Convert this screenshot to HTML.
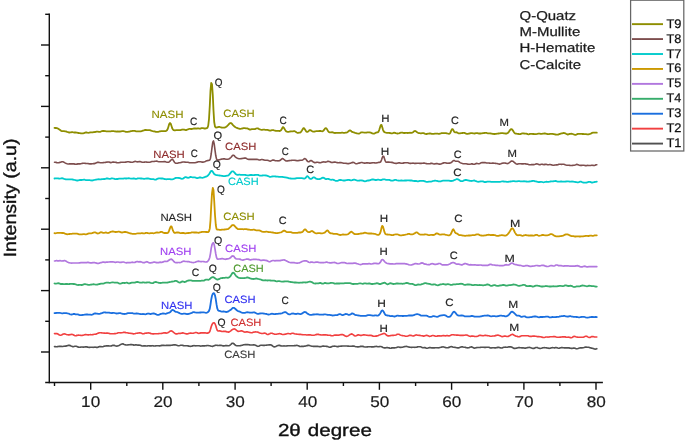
<!DOCTYPE html>
<html lang="en"><head><meta charset="utf-8"><title>XRD patterns</title>
<style>html,body{margin:0;padding:0;background:#fff}svg{display:block}</style></head>
<body>
<svg width="685" height="440" viewBox="0 0 685 440" font-family="'Liberation Sans', sans-serif" text-rendering="geometricPrecision">
<rect width="685" height="440" fill="#fff"/>
<g stroke="#111" stroke-width="1.4" fill="none" stroke-linecap="butt">
<path d="M49.3,13.6V383.25"/>
<path d="M45.2,382.5H602.9"/>
<path d="M41,45.0H49.3"/>
<path d="M41,106.4H49.3"/>
<path d="M41,167.8H49.3"/>
<path d="M41,229.2H49.3"/>
<path d="M41,290.6H49.3"/>
<path d="M41,352.0H49.3"/>
<path d="M45.2,14.3H49.3"/>
<path d="M45.2,75.7H49.3"/>
<path d="M45.2,137.1H49.3"/>
<path d="M45.2,198.5H49.3"/>
<path d="M45.2,259.9H49.3"/>
<path d="M45.2,321.3H49.3"/>
<path d="M54.5,382.5V386"/>
<path d="M90.7,382.5V389.8"/>
<path d="M126.8,382.5V386"/>
<path d="M162.8,382.5V389.8"/>
<path d="M198.9,382.5V386"/>
<path d="M235.1,382.5V389.8"/>
<path d="M271.1,382.5V386"/>
<path d="M307.2,382.5V389.8"/>
<path d="M343.4,382.5V386"/>
<path d="M379.4,382.5V389.8"/>
<path d="M415.6,382.5V386"/>
<path d="M451.6,382.5V389.8"/>
<path d="M487.8,382.5V386"/>
<path d="M523.9,382.5V389.8"/>
<path d="M559.9,382.5V386"/>
<path d="M596.0,382.5V389.8"/>
</g>
<g fill="none" stroke-width="1.7" stroke-linejoin="round" stroke-linecap="round">
<path stroke="#515151" stroke-width="1.65" d="M54.5,346.6 55.2,346.6 56.0,346.7 56.8,346.7 57.5,346.6 58.2,346.5 59.0,346.4 59.8,346.3 60.5,346.3 61.2,346.4 62.0,346.5 62.8,346.5 63.5,346.3 64.2,346.2 65.0,346.1 65.8,346.1 66.5,345.9 67.2,345.7 68.0,345.4 68.8,345.3 69.5,345.4 70.2,345.6 71.0,346.0 71.8,346.3 72.5,346.6 73.2,346.7 74.0,346.5 74.8,346.3 75.5,346.2 76.2,346.3 77.0,346.6 77.8,346.9 78.5,347.1 79.2,347.2 80.0,347.2 80.8,347.1 81.5,347.0 82.2,347.0 83.0,347.1 83.8,347.1 84.5,347.0 85.2,346.9 86.0,346.8 86.8,346.9 87.5,347.1 88.2,347.3 89.0,347.4 89.8,347.4 90.5,347.3 91.2,347.2 92.0,347.2 92.8,347.3 93.5,347.3 94.2,347.2 95.0,347.1 95.8,347.2 96.5,347.4 97.2,347.4 98.0,347.2 98.8,346.8 99.5,346.6 100.2,346.5 101.0,346.6 101.8,346.7 102.5,346.7 103.2,346.6 104.0,346.3 104.8,346.1 105.5,346.0 106.2,345.9 107.0,345.9 107.8,345.9 108.5,345.9 109.2,346.0 110.0,346.0 110.8,346.0 111.5,345.9 112.2,345.6 113.0,345.3 113.8,345.3 114.5,345.4 115.2,345.7 116.0,346.0 116.8,346.1 117.5,346.0 118.2,345.7 119.0,345.4 119.8,345.0 120.5,344.6 121.2,344.2 122.0,344.0 122.8,343.9 123.5,344.1 124.2,344.4 125.0,344.7 125.8,344.9 126.5,345.0 127.2,345.0 128.0,344.9 128.8,344.8 129.5,344.7 130.2,344.6 131.0,344.6 131.8,344.6 132.5,344.8 133.2,344.9 134.0,345.1 134.8,345.0 135.5,344.9 136.2,344.9 137.0,345.0 137.8,345.1 138.5,345.1 139.2,345.1 140.0,345.2 140.8,345.4 141.5,345.7 142.2,346.0 143.0,346.0 143.8,345.9 144.5,345.8 145.2,345.9 146.0,346.0 146.8,346.0 147.5,345.9 148.2,345.7 149.0,345.7 149.8,345.9 150.5,345.9 151.2,345.9 152.0,345.8 152.8,345.7 153.5,345.9 154.2,346.0 155.0,346.0 155.8,345.9 156.5,345.8 157.2,345.7 158.0,345.7 158.8,345.8 159.5,345.8 160.2,345.8 161.0,345.6 161.8,345.4 162.5,345.3 163.2,345.3 164.0,345.4 164.8,345.5 165.5,345.5 166.2,345.4 167.0,345.3 167.8,345.3 168.5,345.3 169.2,345.3 170.0,345.3 170.8,345.3 171.5,345.2 172.2,345.1 173.0,345.0 173.8,344.9 174.5,344.9 175.2,344.9 176.0,345.0 176.8,345.2 177.5,345.5 178.2,345.7 179.0,345.7 179.8,345.5 180.5,345.3 181.2,345.2 182.0,345.3 182.8,345.4 183.5,345.6 184.2,345.7 185.0,345.7 185.8,345.7 186.5,345.7 187.2,345.7 188.0,345.9 188.8,346.1 189.5,346.3 190.2,346.4 191.0,346.3 191.8,346.1 192.5,345.9 193.2,345.7 194.0,345.6 194.8,345.7 195.5,345.8 196.2,345.8 197.0,345.7 197.8,345.7 198.5,345.7 199.2,345.8 200.0,346.0 200.8,346.1 201.5,346.0 202.2,345.9 203.0,345.8 203.8,345.8 204.5,345.8 205.2,345.8 206.0,345.7 206.8,345.6 207.5,345.5 208.2,345.5 209.0,345.7 209.8,345.8 210.5,346.0 211.2,346.2 212.0,346.3 212.8,346.3 213.5,346.0 214.2,345.7 215.0,345.4 215.8,345.2 216.5,345.3 217.2,345.4 218.0,345.5 218.8,345.5 219.5,345.4 220.2,345.4 221.0,345.4 221.8,345.5 222.5,345.7 223.2,345.9 224.0,345.9 224.8,345.8 225.5,345.6 226.2,345.6 227.0,345.6 227.8,345.7 228.5,345.7 229.2,345.6 230.0,345.2 230.8,344.5 231.5,343.8 232.2,343.2 233.0,343.2 233.8,343.7 234.5,344.4 235.2,345.0 236.0,345.4 236.8,345.7 237.5,345.8 238.2,345.7 239.0,345.7 239.8,345.7 240.5,345.6 241.2,345.5 242.0,345.3 242.8,345.1 243.5,344.8 244.2,344.7 245.0,344.6 245.8,344.6 246.5,344.5 247.2,344.6 248.0,344.6 248.8,344.8 249.5,344.9 250.2,345.0 251.0,345.0 251.8,345.0 252.5,345.0 253.2,344.9 254.0,344.9 254.8,345.0 255.5,345.2 256.2,345.6 257.0,346.0 257.8,346.3 258.5,346.2 259.2,345.9 260.0,345.5 260.8,345.3 261.5,345.2 262.2,345.3 263.0,345.4 263.8,345.4 264.5,345.4 265.2,345.3 266.0,345.2 266.8,345.1 267.5,345.0 268.2,345.0 269.0,344.9 269.8,344.8 270.5,344.8 271.2,345.0 272.0,345.5 272.8,346.1 273.5,346.6 274.2,346.9 275.0,346.8 275.8,346.5 276.5,346.1 277.2,345.7 278.0,345.5 278.8,345.4 279.5,345.4 280.2,345.6 281.0,345.9 281.8,346.0 282.5,346.0 283.2,346.0 284.0,345.9 284.8,346.0 285.5,346.0 286.2,346.0 287.0,345.9 287.8,345.8 288.5,345.7 289.2,345.7 290.0,345.7 290.8,345.7 291.5,345.7 292.2,345.7 293.0,345.8 293.8,345.7 294.5,345.6 295.2,345.6 296.0,345.5 296.8,345.4 297.5,345.5 298.2,345.7 299.0,346.1 299.8,346.5 300.5,346.5 301.2,346.4 302.0,346.3 302.8,346.3 303.5,346.4 304.2,346.3 305.0,346.1 305.8,346.0 306.5,345.8 307.2,345.6 308.0,345.4 308.8,345.4 309.5,345.5 310.2,345.8 311.0,346.0 311.8,346.2 312.5,346.3 313.2,346.4 314.0,346.4 314.8,346.4 315.5,346.3 316.2,346.3 317.0,346.3 317.8,346.4 318.5,346.5 319.2,346.6 320.0,346.7 320.8,346.6 321.5,346.5 322.2,346.3 323.0,346.1 323.8,346.1 324.5,346.2 325.2,346.2 326.0,346.3 326.8,346.3 327.5,346.5 328.2,346.8 329.0,347.1 329.8,347.2 330.5,347.1 331.2,346.9 332.0,346.6 332.8,346.3 333.5,346.2 334.2,346.1 335.0,346.2 335.8,346.3 336.5,346.5 337.2,346.6 338.0,346.6 338.8,346.4 339.5,346.3 340.2,346.2 341.0,346.1 341.8,346.1 342.5,346.0 343.2,346.0 344.0,346.0 344.8,346.0 345.5,346.0 346.2,346.0 347.0,346.0 347.8,346.1 348.5,346.1 349.2,346.2 350.0,346.2 350.8,346.2 351.5,346.2 352.2,346.1 353.0,346.1 353.8,346.1 354.5,346.3 355.2,346.5 356.0,346.7 356.8,346.8 357.5,346.9 358.2,346.9 359.0,346.8 359.8,346.6 360.5,346.4 361.2,346.3 362.0,346.3 362.8,346.4 363.5,346.6 364.2,346.8 365.0,347.0 365.8,347.0 366.5,347.0 367.2,346.8 368.0,346.8 368.8,346.7 369.5,346.7 370.2,346.7 371.0,346.8 371.8,346.8 372.5,346.9 373.2,346.9 374.0,346.8 374.8,346.6 375.5,346.5 376.2,346.4 377.0,346.5 377.8,346.7 378.5,346.7 379.2,346.6 380.0,346.5 380.8,346.5 381.5,346.7 382.2,347.0 383.0,347.4 383.8,347.7 384.5,347.9 385.2,347.9 386.0,347.8 386.8,347.6 387.5,347.6 388.2,347.7 389.0,347.9 389.8,348.1 390.5,348.2 391.2,348.1 392.0,347.9 392.8,347.8 393.5,347.8 394.2,347.8 395.0,347.8 395.8,347.7 396.5,347.5 397.2,347.2 398.0,347.0 398.8,347.0 399.5,347.2 400.2,347.4 401.0,347.4 401.8,347.3 402.5,347.2 403.2,347.0 404.0,346.8 404.8,346.6 405.5,346.5 406.2,346.4 407.0,346.5 407.8,346.7 408.5,347.0 409.2,347.1 410.0,347.2 410.8,347.3 411.5,347.3 412.2,347.3 413.0,347.2 413.8,347.2 414.5,347.3 415.2,347.3 416.0,347.2 416.8,347.1 417.5,346.9 418.2,346.8 419.0,346.7 419.8,346.7 420.5,346.8 421.2,347.1 422.0,347.4 422.8,347.7 423.5,347.7 424.2,347.5 425.0,347.6 425.8,347.9 426.5,348.2 427.2,348.2 428.0,348.0 428.8,347.7 429.5,347.5 430.2,347.6 431.0,347.8 431.8,347.9 432.5,347.9 433.2,347.8 434.0,347.8 434.8,347.8 435.5,347.7 436.2,347.7 437.0,347.7 437.8,347.8 438.5,347.8 439.2,347.7 440.0,347.5 440.8,347.3 441.5,347.1 442.2,347.0 443.0,346.9 443.8,347.0 444.5,347.2 445.2,347.4 446.0,347.6 446.8,347.7 447.5,347.7 448.2,347.6 449.0,347.4 449.8,347.0 450.5,346.7 451.2,346.6 452.0,346.8 452.8,347.1 453.5,347.2 454.2,347.3 455.0,347.4 455.8,347.5 456.5,347.7 457.2,347.8 458.0,347.8 458.8,347.8 459.5,347.6 460.2,347.3 461.0,347.0 461.8,346.8 462.5,346.8 463.2,347.0 464.0,347.2 464.8,347.3 465.5,347.4 466.2,347.6 467.0,347.8 467.8,347.9 468.5,347.8 469.2,347.6 470.0,347.2 470.8,347.0 471.5,346.9 472.2,347.1 473.0,347.6 473.8,348.0 474.5,348.1 475.2,348.0 476.0,347.8 476.8,347.6 477.5,347.5 478.2,347.5 479.0,347.5 479.8,347.5 480.5,347.4 481.2,347.3 482.0,347.2 482.8,347.2 483.5,347.3 484.2,347.4 485.0,347.4 485.8,347.4 486.5,347.3 487.2,347.2 488.0,347.2 488.8,347.3 489.5,347.6 490.2,347.9 491.0,348.0 491.8,347.9 492.5,347.8 493.2,347.7 494.0,347.8 494.8,347.9 495.5,347.9 496.2,347.8 497.0,347.6 497.8,347.4 498.5,347.3 499.2,347.4 500.0,347.7 500.8,347.9 501.5,348.0 502.2,347.9 503.0,347.6 503.8,347.3 504.5,347.2 505.2,347.1 506.0,347.2 506.8,347.3 507.5,347.2 508.2,347.0 509.0,346.8 509.8,346.8 510.5,346.8 511.2,346.9 512.0,347.2 512.8,347.7 513.5,348.2 514.2,348.4 515.0,348.4 515.8,348.2 516.5,348.1 517.2,348.0 518.0,347.8 518.8,347.6 519.5,347.6 520.2,347.7 521.0,347.8 521.8,347.9 522.5,347.9 523.2,347.9 524.0,348.0 524.8,348.1 525.5,348.1 526.2,348.0 527.0,347.8 527.8,347.6 528.5,347.5 529.2,347.4 530.0,347.5 530.8,347.7 531.5,348.0 532.2,348.2 533.0,348.4 533.8,348.4 534.5,348.2 535.2,347.8 536.0,347.5 536.8,347.5 537.5,347.6 538.2,347.9 539.0,348.2 539.8,348.4 540.5,348.5 541.2,348.3 542.0,348.1 542.8,347.8 543.5,347.7 544.2,347.6 545.0,347.7 545.8,347.8 546.5,347.9 547.2,348.0 548.0,348.1 548.8,348.3 549.5,348.3 550.2,348.2 551.0,347.9 551.8,347.7 552.5,347.6 553.2,347.7 554.0,347.8 554.8,347.8 555.5,347.6 556.2,347.6 557.0,347.7 557.8,348.0 558.5,348.2 559.2,348.2 560.0,347.9 560.8,347.7 561.5,347.5 562.2,347.6 563.0,347.7 563.8,347.8 564.5,347.8 565.2,347.8 566.0,347.8 566.8,347.8 567.5,347.8 568.2,347.9 569.0,347.9 569.8,348.1 570.5,348.3 571.2,348.4 572.0,348.4 572.8,348.2 573.5,348.0 574.2,348.1 575.0,348.3 575.8,348.6 576.5,348.8 577.2,348.7 578.0,348.5 578.8,348.2 579.5,348.0 580.2,347.9 581.0,347.8 581.8,347.8 582.5,347.8 583.2,347.7 584.0,347.5 584.8,347.2 585.5,347.1 586.2,347.1 587.0,347.2 587.8,347.2 588.5,347.3 589.2,347.4 590.0,347.7 590.8,347.9 591.5,348.1 592.2,348.2 593.0,348.4 593.8,348.7 594.5,349.0 595.2,349.1 596.0,349.0 596.8,348.7"/>
<path stroke="#F14040" stroke-width="1.65" d="M54.5,333.6 55.2,333.6 56.0,333.6 56.8,333.6 57.5,333.8 58.2,334.2 59.0,334.7 59.8,335.1 60.5,335.2 61.2,335.1 62.0,334.8 62.8,334.3 63.5,334.0 64.2,333.9 65.0,334.0 65.8,334.3 66.5,334.5 67.2,334.7 68.0,334.8 68.8,334.8 69.5,334.8 70.2,334.6 71.0,334.5 71.8,334.4 72.5,334.5 73.2,334.8 74.0,335.2 74.8,335.6 75.5,335.7 76.2,335.6 77.0,335.4 77.8,335.2 78.5,335.1 79.2,335.2 80.0,335.3 80.8,335.4 81.5,335.5 82.2,335.4 83.0,335.3 83.8,335.0 84.5,334.7 85.2,334.6 86.0,334.6 86.8,334.7 87.5,334.8 88.2,334.8 89.0,334.8 89.8,334.7 90.5,334.6 91.2,334.7 92.0,334.7 92.8,334.6 93.5,334.5 94.2,334.3 95.0,334.2 95.8,334.1 96.5,333.9 97.2,333.6 98.0,333.2 98.8,332.9 99.5,332.7 100.2,332.7 101.0,332.8 101.8,332.9 102.5,333.0 103.2,333.0 104.0,333.1 104.8,333.1 105.5,333.2 106.2,333.1 107.0,333.0 107.8,333.1 108.5,333.2 109.2,333.4 110.0,333.6 110.8,333.7 111.5,333.7 112.2,333.7 113.0,333.7 113.8,333.7 114.5,333.6 115.2,333.6 116.0,333.5 116.8,333.3 117.5,333.1 118.2,332.8 119.0,332.7 119.8,332.7 120.5,332.8 121.2,332.8 122.0,332.7 122.8,332.5 123.5,332.3 124.2,332.3 125.0,332.4 125.8,332.6 126.5,332.7 127.2,332.8 128.0,333.0 128.8,333.1 129.5,333.2 130.2,333.3 131.0,333.4 131.8,333.5 132.5,333.6 133.2,333.8 134.0,333.8 134.8,333.7 135.5,333.5 136.2,333.3 137.0,333.2 137.8,333.1 138.5,333.0 139.2,332.9 140.0,332.9 140.8,333.0 141.5,333.3 142.2,333.6 143.0,333.8 143.8,333.7 144.5,333.4 145.2,333.2 146.0,333.1 146.8,333.1 147.5,333.0 148.2,332.9 149.0,333.0 149.8,333.1 150.5,333.4 151.2,333.6 152.0,333.8 152.8,333.9 153.5,333.8 154.2,333.8 155.0,333.7 155.8,333.7 156.5,333.7 157.2,333.7 158.0,333.7 158.8,333.6 159.5,333.5 160.2,333.5 161.0,333.5 161.8,333.4 162.5,333.3 163.2,333.0 164.0,332.8 164.8,332.8 165.5,332.9 166.2,333.1 167.0,333.0 167.8,332.7 168.5,332.3 169.2,331.8 170.0,331.2 170.8,330.9 171.5,330.9 172.2,331.2 173.0,331.8 173.8,332.5 174.5,333.1 175.2,333.6 176.0,333.9 176.8,333.9 177.5,333.7 178.2,333.5 179.0,333.4 179.8,333.5 180.5,333.4 181.2,333.3 182.0,333.1 182.8,332.9 183.5,333.0 184.2,333.3 185.0,333.5 185.8,333.7 186.5,333.9 187.2,333.9 188.0,333.7 188.8,333.4 189.5,333.2 190.2,333.1 191.0,333.1 191.8,333.2 192.5,333.2 193.2,333.2 194.0,333.0 194.8,332.8 195.5,332.5 196.2,332.5 197.0,332.7 197.8,333.1 198.5,333.3 199.2,333.3 200.0,333.1 200.8,332.9 201.5,332.9 202.2,332.9 203.0,332.9 203.8,332.8 204.5,332.8 205.2,332.9 206.0,333.0 206.8,333.1 207.5,333.1 208.2,332.9 209.0,332.5 209.8,331.4 210.5,329.3 211.2,326.7 212.0,324.6 212.8,323.3 213.5,322.9 214.2,322.9 215.0,323.8 215.8,325.8 216.5,328.3 217.2,330.2 218.0,331.0 218.8,331.0 219.5,330.8 220.2,330.9 221.0,331.2 221.8,331.4 222.5,331.5 223.2,331.4 224.0,331.3 224.8,331.3 225.5,331.4 226.2,331.6 227.0,331.9 227.8,332.0 228.5,332.1 229.2,331.9 230.0,331.4 230.8,330.8 231.5,330.2 232.2,329.7 233.0,329.3 233.8,329.0 234.5,328.9 235.2,329.2 236.0,329.8 236.8,330.5 237.5,331.1 238.2,331.4 239.0,331.3 239.8,331.2 240.5,331.0 241.2,330.8 242.0,330.9 242.8,331.2 243.5,331.6 244.2,332.0 245.0,332.1 245.8,332.0 246.5,331.8 247.2,331.8 248.0,332.0 248.8,332.2 249.5,332.4 250.2,332.5 251.0,332.7 251.8,332.7 252.5,332.6 253.2,332.3 254.0,332.1 254.8,332.0 255.5,331.9 256.2,332.0 257.0,332.0 257.8,332.1 258.5,332.4 259.2,332.8 260.0,333.1 260.8,333.3 261.5,333.5 262.2,333.5 263.0,333.4 263.8,333.2 264.5,333.1 265.2,333.2 266.0,333.6 266.8,334.2 267.5,334.5 268.2,334.5 269.0,334.1 269.8,333.7 270.5,333.3 271.2,333.2 272.0,333.3 272.8,333.6 273.5,333.8 274.2,334.1 275.0,334.2 275.8,334.2 276.5,334.2 277.2,334.0 278.0,333.9 278.8,333.7 279.5,333.6 280.2,333.7 281.0,333.9 281.8,334.3 282.5,334.5 283.2,334.5 284.0,334.4 284.8,334.2 285.5,334.1 286.2,334.0 287.0,333.7 287.8,333.5 288.5,333.5 289.2,333.7 290.0,333.8 290.8,333.8 291.5,333.5 292.2,333.2 293.0,333.2 293.8,333.5 294.5,333.8 295.2,334.0 296.0,334.0 296.8,334.1 297.5,334.2 298.2,334.3 299.0,334.4 299.8,334.4 300.5,334.4 301.2,334.5 302.0,334.6 302.8,334.7 303.5,334.7 304.2,334.7 305.0,334.7 305.8,334.8 306.5,335.0 307.2,335.0 308.0,334.9 308.8,334.8 309.5,334.8 310.2,334.9 311.0,335.0 311.8,335.2 312.5,335.2 313.2,335.2 314.0,335.2 314.8,335.0 315.5,334.8 316.2,334.6 317.0,334.4 317.8,334.4 318.5,334.4 319.2,334.6 320.0,334.8 320.8,334.9 321.5,335.0 322.2,335.0 323.0,334.9 323.8,334.8 324.5,334.8 325.2,334.8 326.0,334.9 326.8,335.0 327.5,335.1 328.2,335.2 329.0,335.2 329.8,335.3 330.5,335.4 331.2,335.6 332.0,335.7 332.8,335.7 333.5,335.5 334.2,335.3 335.0,335.1 335.8,335.1 336.5,335.1 337.2,335.1 338.0,335.2 338.8,335.1 339.5,335.0 340.2,334.7 341.0,334.6 341.8,334.5 342.5,334.6 343.2,334.8 344.0,335.2 344.8,335.7 345.5,336.1 346.2,336.3 347.0,336.3 347.8,336.0 348.5,335.6 349.2,335.1 350.0,334.6 350.8,334.2 351.5,333.9 352.2,334.1 353.0,334.6 353.8,335.2 354.5,335.8 355.2,336.0 356.0,335.8 356.8,335.4 357.5,335.1 358.2,334.9 359.0,334.9 359.8,335.2 360.5,335.4 361.2,335.4 362.0,335.2 362.8,335.0 363.5,334.9 364.2,334.9 365.0,335.0 365.8,335.0 366.5,335.2 367.2,335.3 368.0,335.4 368.8,335.5 369.5,335.4 370.2,335.3 371.0,335.4 371.8,335.6 372.5,335.9 373.2,336.1 374.0,336.2 374.8,336.2 375.5,336.1 376.2,336.1 377.0,335.9 377.8,335.7 378.5,335.4 379.2,335.0 380.0,334.8 380.8,334.5 381.5,334.3 382.2,334.0 383.0,333.7 383.8,333.4 384.5,333.5 385.2,333.9 386.0,334.6 386.8,335.3 387.5,335.7 388.2,335.9 389.0,335.9 389.8,335.8 390.5,335.6 391.2,335.5 392.0,335.4 392.8,335.4 393.5,335.4 394.2,335.3 395.0,335.2 395.8,335.0 396.5,334.7 397.2,334.3 398.0,334.2 398.8,334.3 399.5,334.6 400.2,335.0 401.0,335.3 401.8,335.5 402.5,335.6 403.2,335.7 404.0,335.8 404.8,336.0 405.5,336.2 406.2,336.3 407.0,336.2 407.8,336.0 408.5,335.7 409.2,335.4 410.0,335.3 410.8,335.3 411.5,335.5 412.2,335.8 413.0,336.0 413.8,335.9 414.5,335.6 415.2,335.2 416.0,334.9 416.8,335.0 417.5,335.2 418.2,335.3 419.0,335.4 419.8,335.4 420.5,335.5 421.2,335.7 422.0,335.8 422.8,335.9 423.5,336.1 424.2,336.1 425.0,335.8 425.8,335.5 426.5,335.3 427.2,335.4 428.0,335.7 428.8,336.1 429.5,336.4 430.2,336.3 431.0,336.1 431.8,335.7 432.5,335.5 433.2,335.5 434.0,335.7 434.8,335.9 435.5,336.2 436.2,336.2 437.0,336.1 437.8,335.9 438.5,335.8 439.2,335.8 440.0,335.9 440.8,336.0 441.5,335.9 442.2,335.7 443.0,335.6 443.8,335.6 444.5,335.8 445.2,335.9 446.0,335.8 446.8,335.6 447.5,335.6 448.2,335.7 449.0,335.9 449.8,335.8 450.5,335.4 451.2,335.0 452.0,334.7 452.8,334.7 453.5,334.7 454.2,334.9 455.0,335.0 455.8,335.0 456.5,335.1 457.2,335.1 458.0,335.1 458.8,335.2 459.5,335.3 460.2,335.3 461.0,335.3 461.8,335.3 462.5,335.4 463.2,335.4 464.0,335.3 464.8,335.2 465.5,335.0 466.2,335.0 467.0,335.1 467.8,335.4 468.5,335.8 469.2,336.1 470.0,336.3 470.8,336.3 471.5,336.1 472.2,336.0 473.0,336.1 473.8,336.2 474.5,336.4 475.2,336.5 476.0,336.5 476.8,336.4 477.5,336.2 478.2,335.9 479.0,335.5 479.8,335.3 480.5,335.3 481.2,335.5 482.0,335.6 482.8,335.7 483.5,335.7 484.2,335.5 485.0,335.4 485.8,335.4 486.5,335.5 487.2,335.6 488.0,335.7 488.8,335.8 489.5,336.0 490.2,336.2 491.0,336.2 491.8,336.2 492.5,336.0 493.2,336.0 494.0,336.0 494.8,335.9 495.5,335.6 496.2,335.4 497.0,335.2 497.8,335.1 498.5,335.3 499.2,335.5 500.0,335.8 500.8,336.1 501.5,336.5 502.2,336.6 503.0,336.5 503.8,336.2 504.5,336.0 505.2,336.1 506.0,336.3 506.8,336.5 507.5,336.5 508.2,336.4 509.0,336.0 509.8,335.6 510.5,335.2 511.2,334.7 512.0,334.4 512.8,334.4 513.5,334.8 514.2,335.3 515.0,335.7 515.8,336.1 516.5,336.3 517.2,336.4 518.0,336.6 518.8,336.7 519.5,336.6 520.2,336.4 521.0,336.0 521.8,335.8 522.5,335.7 523.2,335.7 524.0,335.7 524.8,335.7 525.5,335.7 526.2,335.7 527.0,335.7 527.8,335.8 528.5,335.9 529.2,336.2 530.0,336.4 530.8,336.4 531.5,336.4 532.2,336.3 533.0,336.1 533.8,336.0 534.5,336.1 535.2,336.2 536.0,336.3 536.8,336.5 537.5,336.6 538.2,336.6 539.0,336.6 539.8,336.7 540.5,336.7 541.2,336.9 542.0,337.1 542.8,337.4 543.5,337.5 544.2,337.5 545.0,337.3 545.8,337.0 546.5,337.0 547.2,337.0 548.0,337.1 548.8,337.0 549.5,336.9 550.2,336.7 551.0,336.7 551.8,336.7 552.5,336.7 553.2,336.6 554.0,336.6 554.8,336.5 555.5,336.7 556.2,337.0 557.0,337.2 557.8,337.2 558.5,337.2 559.2,337.2 560.0,337.1 560.8,337.1 561.5,337.0 562.2,336.9 563.0,336.8 563.8,336.8 564.5,336.8 565.2,336.9 566.0,337.1 566.8,337.2 567.5,337.2 568.2,337.1 569.0,337.2 569.8,337.4 570.5,337.6 571.2,337.7 572.0,337.4 572.8,337.0 573.5,336.5 574.2,336.4 575.0,336.5 575.8,336.8 576.5,337.0 577.2,337.1 578.0,337.2 578.8,337.2 579.5,337.2 580.2,337.2 581.0,337.2 581.8,337.2 582.5,337.2 583.2,337.2 584.0,336.9 584.8,336.6 585.5,336.3 586.2,336.2 587.0,336.4 587.8,336.9 588.5,337.3 589.2,337.5 590.0,337.4 590.8,337.0 591.5,336.6 592.2,336.5 593.0,336.6 593.8,336.8 594.5,337.0 595.2,337.0 596.0,337.0 596.8,337.0"/>
<path stroke="#1A6FDF" stroke-width="1.8" d="M54.5,313.2 55.2,313.1 56.0,313.0 56.8,312.9 57.5,312.8 58.2,312.8 59.0,312.8 59.8,312.8 60.5,313.0 61.2,313.2 62.0,313.3 62.8,313.3 63.5,313.2 64.2,313.1 65.0,313.1 65.8,313.1 66.5,313.2 67.2,313.3 68.0,313.5 68.8,313.7 69.5,314.0 70.2,314.3 71.0,314.5 71.8,314.5 72.5,314.3 73.2,314.0 74.0,313.9 74.8,314.0 75.5,314.3 76.2,314.3 77.0,314.4 77.8,314.4 78.5,314.6 79.2,314.9 80.0,315.2 80.8,315.2 81.5,315.1 82.2,315.0 83.0,314.9 83.8,314.8 84.5,314.7 85.2,314.6 86.0,314.5 86.8,314.4 87.5,314.5 88.2,314.6 89.0,314.6 89.8,314.6 90.5,314.7 91.2,314.8 92.0,314.7 92.8,314.4 93.5,314.0 94.2,313.6 95.0,313.4 95.8,313.5 96.5,313.6 97.2,313.7 98.0,313.8 98.8,313.9 99.5,313.9 100.2,313.7 101.0,313.4 101.8,313.1 102.5,312.8 103.2,312.6 104.0,312.4 104.8,312.4 105.5,312.5 106.2,312.6 107.0,312.7 107.8,312.6 108.5,312.6 109.2,312.6 110.0,312.8 110.8,313.0 111.5,313.1 112.2,313.0 113.0,312.9 113.8,312.8 114.5,313.0 115.2,313.2 116.0,313.4 116.8,313.5 117.5,313.4 118.2,313.3 119.0,313.1 119.8,313.2 120.5,313.2 121.2,313.4 122.0,313.6 122.8,313.8 123.5,313.9 124.2,314.0 125.0,313.9 125.8,313.9 126.5,313.7 127.2,313.4 128.0,313.2 128.8,313.1 129.5,313.1 130.2,313.1 131.0,313.1 131.8,313.1 132.5,313.2 133.2,313.4 134.0,313.6 134.8,313.6 135.5,313.6 136.2,313.5 137.0,313.5 137.8,313.6 138.5,313.7 139.2,313.8 140.0,314.0 140.8,314.1 141.5,314.2 142.2,314.1 143.0,314.0 143.8,314.1 144.5,314.2 145.2,314.3 146.0,314.2 146.8,313.9 147.5,313.7 148.2,313.5 149.0,313.7 149.8,313.9 150.5,314.1 151.2,313.9 152.0,313.7 152.8,313.5 153.5,313.4 154.2,313.5 155.0,313.8 155.8,314.1 156.5,314.5 157.2,314.8 158.0,314.9 158.8,314.8 159.5,314.5 160.2,314.2 161.0,313.9 161.8,313.7 162.5,313.5 163.2,313.5 164.0,313.6 164.8,313.7 165.5,313.8 166.2,313.6 167.0,313.3 167.8,313.0 168.5,312.8 169.2,312.7 170.0,312.2 170.8,311.5 171.5,310.6 172.2,309.9 173.0,309.9 173.8,310.4 174.5,311.0 175.2,311.6 176.0,311.8 176.8,312.0 177.5,312.2 178.2,312.5 179.0,312.9 179.8,313.3 180.5,313.5 181.2,313.8 182.0,313.9 182.8,313.8 183.5,313.7 184.2,313.6 185.0,313.6 185.8,313.8 186.5,314.0 187.2,314.1 188.0,314.0 188.8,313.9 189.5,313.7 190.2,313.5 191.0,313.2 191.8,312.9 192.5,312.5 193.2,312.1 194.0,312.1 194.8,312.3 195.5,312.5 196.2,312.7 197.0,312.7 197.8,312.6 198.5,312.6 199.2,312.6 200.0,312.5 200.8,312.5 201.5,312.4 202.2,312.4 203.0,312.3 203.8,312.3 204.5,312.5 205.2,312.7 206.0,312.8 206.8,312.6 207.5,312.3 208.2,311.9 209.0,310.9 209.8,308.6 210.5,304.5 211.2,299.7 212.0,295.8 212.8,293.7 213.5,293.2 214.2,293.4 215.0,295.3 215.8,299.3 216.5,304.2 217.2,308.1 218.0,310.2 218.8,310.8 219.5,310.9 220.2,311.1 221.0,311.4 221.8,311.6 222.5,311.6 223.2,311.5 224.0,311.5 224.8,311.7 225.5,311.9 226.2,312.0 227.0,311.9 227.8,311.7 228.5,311.2 229.2,310.8 230.0,310.3 230.8,309.8 231.5,309.1 232.2,308.4 233.0,307.8 233.8,307.8 234.5,308.1 235.2,308.8 236.0,309.5 236.8,310.2 237.5,310.7 238.2,311.1 239.0,311.4 239.8,311.7 240.5,312.0 241.2,312.3 242.0,312.6 242.8,312.8 243.5,312.9 244.2,312.9 245.0,312.8 245.8,312.5 246.5,312.3 247.2,312.2 248.0,312.3 248.8,312.4 249.5,312.6 250.2,312.7 251.0,312.7 251.8,312.7 252.5,312.6 253.2,312.4 254.0,312.4 254.8,312.5 255.5,312.8 256.2,313.2 257.0,313.6 257.8,313.8 258.5,313.8 259.2,313.6 260.0,313.5 260.8,313.4 261.5,313.3 262.2,313.3 263.0,313.4 263.8,313.6 264.5,313.7 265.2,313.8 266.0,313.9 266.8,314.0 267.5,314.3 268.2,314.5 269.0,314.5 269.8,314.3 270.5,314.0 271.2,313.8 272.0,313.7 272.8,313.8 273.5,314.0 274.2,314.1 275.0,314.1 275.8,314.0 276.5,313.9 277.2,313.8 278.0,313.8 278.8,313.7 279.5,313.7 280.2,313.6 281.0,313.5 281.8,313.3 282.5,313.0 283.2,312.7 284.0,312.3 284.8,312.1 285.5,312.1 286.2,312.5 287.0,313.1 287.8,313.7 288.5,314.2 289.2,314.4 290.0,314.3 290.8,314.0 291.5,313.7 292.2,313.6 293.0,313.5 293.8,313.6 294.5,313.8 295.2,313.9 296.0,314.0 296.8,313.9 297.5,313.7 298.2,313.7 299.0,313.8 299.8,314.0 300.5,314.1 301.2,313.9 302.0,313.6 302.8,313.0 303.5,312.5 304.2,312.1 305.0,312.0 305.8,312.2 306.5,312.8 307.2,313.4 308.0,313.9 308.8,314.3 309.5,314.6 310.2,314.8 311.0,314.8 311.8,314.8 312.5,314.6 313.2,314.5 314.0,314.5 314.8,314.4 315.5,314.4 316.2,314.3 317.0,314.2 317.8,314.3 318.5,314.4 319.2,314.6 320.0,314.7 320.8,314.7 321.5,314.7 322.2,314.7 323.0,314.6 323.8,314.5 324.5,314.3 325.2,314.3 326.0,314.5 326.8,314.7 327.5,314.9 328.2,314.9 329.0,314.9 329.8,314.9 330.5,315.1 331.2,315.2 332.0,315.4 332.8,315.5 333.5,315.4 334.2,315.3 335.0,315.2 335.8,315.2 336.5,315.2 337.2,315.1 338.0,314.7 338.8,314.4 339.5,314.2 340.2,314.2 341.0,314.5 341.8,314.9 342.5,315.1 343.2,315.0 344.0,314.7 344.8,314.3 345.5,314.0 346.2,314.0 347.0,314.2 347.8,314.5 348.5,314.8 349.2,314.9 350.0,314.7 350.8,314.3 351.5,313.7 352.2,313.4 353.0,313.6 353.8,314.0 354.5,314.5 355.2,314.9 356.0,315.1 356.8,315.2 357.5,315.3 358.2,315.4 359.0,315.6 359.8,315.7 360.5,315.8 361.2,315.9 362.0,315.9 362.8,315.9 363.5,315.8 364.2,315.8 365.0,315.8 365.8,315.8 366.5,315.6 367.2,315.4 368.0,315.2 368.8,315.1 369.5,315.1 370.2,315.2 371.0,315.3 371.8,315.4 372.5,315.6 373.2,315.7 374.0,315.6 374.8,315.4 375.5,315.3 376.2,315.4 377.0,315.6 377.8,315.6 378.5,315.4 379.2,314.8 380.0,313.7 380.8,312.4 381.5,311.0 382.2,310.4 383.0,310.8 383.8,312.0 384.5,313.4 385.2,314.5 386.0,315.2 386.8,315.4 387.5,315.5 388.2,315.6 389.0,315.7 389.8,316.0 390.5,316.1 391.2,316.1 392.0,316.0 392.8,316.1 393.5,316.3 394.2,316.5 395.0,316.5 395.8,316.2 396.5,315.9 397.2,315.7 398.0,315.7 398.8,315.9 399.5,315.9 400.2,315.9 401.0,315.9 401.8,315.9 402.5,316.0 403.2,316.0 404.0,315.9 404.8,315.8 405.5,315.8 406.2,315.9 407.0,315.8 407.8,315.7 408.5,315.5 409.2,315.5 410.0,315.5 410.8,315.5 411.5,315.5 412.2,315.5 413.0,315.4 413.8,315.2 414.5,314.8 415.2,314.5 416.0,314.3 416.8,314.2 417.5,314.2 418.2,314.3 419.0,314.5 419.8,314.9 420.5,315.3 421.2,315.6 422.0,315.7 422.8,315.7 423.5,315.7 424.2,315.7 425.0,315.6 425.8,315.6 426.5,315.7 427.2,315.9 428.0,316.3 428.8,316.6 429.5,316.8 430.2,316.8 431.0,316.8 431.8,316.6 432.5,316.4 433.2,316.2 434.0,316.2 434.8,316.3 435.5,316.5 436.2,316.7 437.0,316.8 437.8,316.6 438.5,316.3 439.2,316.0 440.0,315.7 440.8,315.5 441.5,315.4 442.2,315.3 443.0,315.2 443.8,315.2 444.5,315.2 445.2,315.4 446.0,315.7 446.8,316.2 447.5,316.6 448.2,316.9 449.0,316.9 449.8,316.7 450.5,316.2 451.2,315.2 452.0,314.0 452.8,312.7 453.5,311.8 454.2,311.7 455.0,312.3 455.8,313.2 456.5,314.1 457.2,314.9 458.0,315.4 458.8,315.6 459.5,315.6 460.2,315.6 461.0,315.5 461.8,315.5 462.5,315.5 463.2,315.7 464.0,316.0 464.8,316.3 465.5,316.4 466.2,316.4 467.0,316.3 467.8,316.3 468.5,316.4 469.2,316.4 470.0,316.3 470.8,316.1 471.5,316.0 472.2,316.0 473.0,316.1 473.8,316.3 474.5,316.6 475.2,316.7 476.0,316.7 476.8,316.7 477.5,316.6 478.2,316.6 479.0,316.7 479.8,316.6 480.5,316.4 481.2,316.3 482.0,316.1 482.8,315.9 483.5,315.8 484.2,315.7 485.0,315.7 485.8,315.6 486.5,315.6 487.2,315.5 488.0,315.5 488.8,315.6 489.5,315.8 490.2,316.1 491.0,316.3 491.8,316.3 492.5,316.2 493.2,316.1 494.0,316.1 494.8,316.2 495.5,316.3 496.2,316.4 497.0,316.4 497.8,316.2 498.5,316.1 499.2,315.8 500.0,315.7 500.8,315.7 501.5,315.7 502.2,315.8 503.0,315.8 503.8,315.9 504.5,316.1 505.2,316.3 506.0,316.4 506.8,316.2 507.5,315.8 508.2,315.4 509.0,314.6 509.8,313.7 510.5,312.7 511.2,312.0 512.0,311.7 512.8,311.9 513.5,312.4 514.2,313.1 515.0,313.9 515.8,314.7 516.5,315.3 517.2,315.6 518.0,315.6 518.8,315.6 519.5,315.8 520.2,316.3 521.0,316.8 521.8,316.9 522.5,316.7 523.2,316.5 524.0,316.3 524.8,316.4 525.5,316.7 526.2,317.1 527.0,317.3 527.8,317.3 528.5,317.3 529.2,317.3 530.0,317.2 530.8,317.2 531.5,317.1 532.2,316.9 533.0,316.7 533.8,316.5 534.5,316.5 535.2,316.5 536.0,316.5 536.8,316.7 537.5,317.0 538.2,317.2 539.0,317.3 539.8,317.1 540.5,317.0 541.2,317.0 542.0,317.0 542.8,317.0 543.5,316.9 544.2,316.8 545.0,316.8 545.8,316.7 546.5,316.6 547.2,316.6 548.0,316.7 548.8,317.0 549.5,317.3 550.2,317.4 551.0,317.3 551.8,317.1 552.5,317.0 553.2,317.1 554.0,317.2 554.8,317.2 555.5,317.1 556.2,317.0 557.0,316.9 557.8,316.9 558.5,316.8 559.2,316.7 560.0,316.4 560.8,316.3 561.5,316.2 562.2,316.2 563.0,316.1 563.8,315.9 564.5,315.9 565.2,316.1 566.0,316.3 566.8,316.5 567.5,316.6 568.2,316.5 569.0,316.4 569.8,316.2 570.5,316.2 571.2,316.4 572.0,316.6 572.8,316.7 573.5,316.8 574.2,316.8 575.0,316.9 575.8,316.9 576.5,317.0 577.2,317.0 578.0,317.2 578.8,317.3 579.5,317.3 580.2,317.2 581.0,317.0 581.8,316.9 582.5,316.8 583.2,316.8 584.0,316.8 584.8,317.0 585.5,317.3 586.2,317.5 587.0,317.7 587.8,317.7 588.5,317.5 589.2,317.3 590.0,317.2 590.8,317.1 591.5,317.0 592.2,317.0 593.0,317.0 593.8,317.1 594.5,317.1 595.2,317.0 596.0,317.0 596.8,317.1"/>
<path stroke="#37AD6B" stroke-width="1.8" d="M54.5,283.5 55.2,283.7 56.0,283.7 56.8,283.5 57.5,283.3 58.2,283.2 59.0,283.4 59.8,283.7 60.5,284.0 61.2,284.0 62.0,284.0 62.8,284.0 63.5,284.1 64.2,284.1 65.0,284.1 65.8,284.0 66.5,284.0 67.2,284.0 68.0,284.1 68.8,284.1 69.5,284.0 70.2,283.9 71.0,283.9 71.8,283.9 72.5,283.9 73.2,284.0 74.0,284.0 74.8,284.1 75.5,284.3 76.2,284.5 77.0,284.8 77.8,285.0 78.5,285.0 79.2,284.8 80.0,284.8 80.8,284.9 81.5,285.0 82.2,285.0 83.0,284.7 83.8,284.4 84.5,284.2 85.2,284.2 86.0,284.3 86.8,284.5 87.5,284.7 88.2,284.9 89.0,284.9 89.8,284.8 90.5,284.7 91.2,284.6 92.0,284.5 92.8,284.3 93.5,284.2 94.2,284.3 95.0,284.5 95.8,284.7 96.5,284.7 97.2,284.6 98.0,284.3 98.8,284.1 99.5,284.0 100.2,283.9 101.0,283.7 101.8,283.7 102.5,283.7 103.2,283.6 104.0,283.4 104.8,283.0 105.5,282.8 106.2,282.7 107.0,282.7 107.8,282.7 108.5,282.7 109.2,282.8 110.0,282.8 110.8,282.7 111.5,282.5 112.2,282.3 113.0,282.3 113.8,282.5 114.5,282.7 115.2,282.7 116.0,282.6 116.8,282.6 117.5,282.7 118.2,283.0 119.0,283.4 119.8,283.7 120.5,283.7 121.2,283.5 122.0,283.2 122.8,282.9 123.5,282.9 124.2,283.0 125.0,283.0 125.8,282.8 126.5,282.7 127.2,282.7 128.0,283.1 128.8,283.4 129.5,283.4 130.2,283.1 131.0,282.8 131.8,282.6 132.5,282.6 133.2,282.7 134.0,282.7 134.8,282.6 135.5,282.3 136.2,282.1 137.0,282.0 137.8,282.0 138.5,282.2 139.2,282.4 140.0,282.6 140.8,282.7 141.5,282.7 142.2,282.5 143.0,282.4 143.8,282.4 144.5,282.6 145.2,282.6 146.0,282.6 146.8,282.5 147.5,282.4 148.2,282.3 149.0,282.4 149.8,282.5 150.5,282.8 151.2,283.0 152.0,283.2 152.8,283.1 153.5,282.8 154.2,282.3 155.0,282.1 155.8,282.0 156.5,282.1 157.2,282.3 158.0,282.5 158.8,282.8 159.5,282.9 160.2,283.0 161.0,282.9 161.8,282.8 162.5,282.7 163.2,282.7 164.0,282.7 164.8,282.7 165.5,282.7 166.2,282.7 167.0,282.6 167.8,282.5 168.5,282.3 169.2,282.1 170.0,282.0 170.8,281.8 171.5,281.6 172.2,281.6 173.0,281.5 173.8,281.3 174.5,281.1 175.2,280.9 176.0,280.9 176.8,281.1 177.5,281.5 178.2,282.0 179.0,282.4 179.8,282.6 180.5,282.4 181.2,281.9 182.0,281.5 182.8,281.5 183.5,281.7 184.2,282.0 185.0,282.0 185.8,281.7 186.5,281.2 187.2,280.8 188.0,280.6 188.8,280.5 189.5,280.4 190.2,280.3 191.0,280.4 191.8,280.6 192.5,280.8 193.2,280.8 194.0,280.9 194.8,280.9 195.5,280.9 196.2,280.9 197.0,280.8 197.8,280.8 198.5,280.8 199.2,280.8 200.0,280.8 200.8,280.8 201.5,280.7 202.2,280.7 203.0,280.7 203.8,280.6 204.5,280.3 205.2,279.9 206.0,279.7 206.8,279.6 207.5,279.7 208.2,279.8 209.0,279.6 209.8,279.1 210.5,278.4 211.2,277.8 212.0,277.3 212.8,277.1 213.5,277.2 214.2,277.6 215.0,278.2 215.8,278.8 216.5,279.3 217.2,279.5 218.0,279.5 218.8,279.1 219.5,278.8 220.2,278.5 221.0,278.2 221.8,278.1 222.5,278.0 223.2,277.9 224.0,277.9 224.8,277.8 225.5,277.7 226.2,277.6 227.0,277.7 227.8,277.8 228.5,277.7 229.2,277.3 230.0,276.6 230.8,275.6 231.5,274.4 232.2,273.3 233.0,272.7 233.8,272.8 234.5,273.6 235.2,274.8 236.0,275.8 236.8,276.6 237.5,277.1 238.2,277.5 239.0,277.8 239.8,278.0 240.5,278.1 241.2,278.1 242.0,278.1 242.8,278.1 243.5,278.1 244.2,278.1 245.0,278.0 245.8,277.8 246.5,277.6 247.2,277.4 248.0,277.5 248.8,277.8 249.5,278.1 250.2,278.4 251.0,278.6 251.8,278.8 252.5,278.9 253.2,279.0 254.0,278.9 254.8,278.8 255.5,278.6 256.2,278.5 257.0,278.6 257.8,278.8 258.5,279.0 259.2,279.2 260.0,279.3 260.8,279.5 261.5,279.8 262.2,280.2 263.0,280.4 263.8,280.4 264.5,280.3 265.2,280.2 266.0,280.3 266.8,280.4 267.5,280.5 268.2,280.4 269.0,280.4 269.8,280.4 270.5,280.5 271.2,280.6 272.0,280.6 272.8,280.6 273.5,280.6 274.2,280.6 275.0,280.8 275.8,281.1 276.5,281.3 277.2,281.3 278.0,281.2 278.8,281.1 279.5,281.2 280.2,281.3 281.0,281.5 281.8,281.7 282.5,281.7 283.2,281.6 284.0,281.5 284.8,281.4 285.5,281.3 286.2,281.3 287.0,281.3 287.8,281.4 288.5,281.5 289.2,281.7 290.0,281.9 290.8,282.0 291.5,282.1 292.2,282.2 293.0,282.3 293.8,282.4 294.5,282.5 295.2,282.5 296.0,282.5 296.8,282.6 297.5,282.7 298.2,282.7 299.0,282.8 299.8,282.7 300.5,282.7 301.2,282.6 302.0,282.6 302.8,282.5 303.5,282.4 304.2,282.3 305.0,282.4 305.8,282.5 306.5,282.4 307.2,282.3 308.0,282.0 308.8,281.8 309.5,281.7 310.2,281.7 311.0,281.9 311.8,282.1 312.5,282.5 313.2,283.0 314.0,283.3 314.8,283.5 315.5,283.5 316.2,283.4 317.0,283.4 317.8,283.4 318.5,283.3 319.2,283.1 320.0,283.0 320.8,283.0 321.5,283.3 322.2,283.6 323.0,283.6 323.8,283.3 324.5,283.0 325.2,283.0 326.0,283.1 326.8,283.3 327.5,283.4 328.2,283.4 329.0,283.3 329.8,283.2 330.5,282.9 331.2,282.8 332.0,282.8 332.8,283.0 333.5,283.2 334.2,283.5 335.0,283.6 335.8,283.6 336.5,283.5 337.2,283.5 338.0,283.5 338.8,283.5 339.5,283.5 340.2,283.4 341.0,283.4 341.8,283.3 342.5,283.3 343.2,283.3 344.0,283.3 344.8,283.2 345.5,283.2 346.2,283.2 347.0,283.1 347.8,283.1 348.5,283.1 349.2,283.1 350.0,283.2 350.8,283.4 351.5,283.7 352.2,283.9 353.0,284.0 353.8,284.0 354.5,283.9 355.2,283.9 356.0,283.9 356.8,283.9 357.5,283.8 358.2,283.7 359.0,283.5 359.8,283.3 360.5,283.3 361.2,283.5 362.0,283.7 362.8,283.8 363.5,283.6 364.2,283.4 365.0,283.3 365.8,283.4 366.5,283.6 367.2,283.7 368.0,283.6 368.8,283.5 369.5,283.4 370.2,283.6 371.0,283.9 371.8,284.0 372.5,284.0 373.2,283.9 374.0,283.8 374.8,283.7 375.5,283.6 376.2,283.4 377.0,283.2 377.8,283.3 378.5,283.6 379.2,284.0 380.0,284.1 380.8,284.0 381.5,283.7 382.2,283.4 383.0,283.1 383.8,282.8 384.5,282.7 385.2,282.9 386.0,283.5 386.8,284.0 387.5,284.3 388.2,284.2 389.0,283.8 389.8,283.4 390.5,283.2 391.2,283.3 392.0,283.6 392.8,283.9 393.5,284.0 394.2,283.9 395.0,283.8 395.8,283.6 396.5,283.5 397.2,283.5 398.0,283.5 398.8,283.6 399.5,283.6 400.2,283.6 401.0,283.6 401.8,283.7 402.5,283.8 403.2,283.7 404.0,283.6 404.8,283.4 405.5,283.2 406.2,283.0 407.0,282.9 407.8,283.1 408.5,283.4 409.2,283.7 410.0,283.8 410.8,283.8 411.5,283.8 412.2,283.9 413.0,284.2 413.8,284.5 414.5,284.9 415.2,285.1 416.0,285.1 416.8,284.9 417.5,284.6 418.2,284.5 419.0,284.6 419.8,284.7 420.5,284.6 421.2,284.4 422.0,284.1 422.8,283.9 423.5,283.7 424.2,283.4 425.0,283.2 425.8,283.2 426.5,283.4 427.2,283.6 428.0,283.7 428.8,283.8 429.5,283.9 430.2,284.1 431.0,284.4 431.8,284.6 432.5,284.6 433.2,284.5 434.0,284.4 434.8,284.4 435.5,284.6 436.2,285.0 437.0,285.2 437.8,285.3 438.5,285.1 439.2,284.8 440.0,284.5 440.8,284.4 441.5,284.3 442.2,284.2 443.0,284.0 443.8,284.1 444.5,284.3 445.2,284.5 446.0,284.5 446.8,284.4 447.5,284.2 448.2,284.2 449.0,284.3 449.8,284.5 450.5,284.8 451.2,284.9 452.0,284.8 452.8,284.5 453.5,284.4 454.2,284.3 455.0,284.3 455.8,284.3 456.5,284.2 457.2,284.2 458.0,284.2 458.8,284.1 459.5,283.9 460.2,283.8 461.0,283.7 461.8,283.8 462.5,283.9 463.2,284.3 464.0,284.6 464.8,284.8 465.5,284.9 466.2,284.7 467.0,284.5 467.8,284.4 468.5,284.5 469.2,284.5 470.0,284.6 470.8,284.7 471.5,284.9 472.2,285.1 473.0,285.1 473.8,285.1 474.5,284.9 475.2,284.8 476.0,284.8 476.8,285.0 477.5,285.1 478.2,285.1 479.0,285.1 479.8,285.0 480.5,285.1 481.2,285.1 482.0,285.2 482.8,285.3 483.5,285.3 484.2,285.2 485.0,285.1 485.8,284.9 486.5,284.6 487.2,284.5 488.0,284.5 488.8,284.7 489.5,285.1 490.2,285.5 491.0,285.9 491.8,285.9 492.5,285.7 493.2,285.3 494.0,285.2 494.8,285.2 495.5,285.4 496.2,285.7 497.0,285.8 497.8,285.9 498.5,285.8 499.2,285.6 500.0,285.5 500.8,285.4 501.5,285.3 502.2,285.1 503.0,285.0 503.8,285.0 504.5,285.1 505.2,285.3 506.0,285.6 506.8,285.6 507.5,285.5 508.2,285.3 509.0,285.2 509.8,285.1 510.5,285.1 511.2,285.0 512.0,284.8 512.8,284.6 513.5,284.5 514.2,284.6 515.0,284.7 515.8,284.8 516.5,285.0 517.2,285.3 518.0,285.6 518.8,285.8 519.5,285.9 520.2,285.7 521.0,285.5 521.8,285.3 522.5,285.0 523.2,284.8 524.0,284.8 524.8,285.0 525.5,285.4 526.2,285.9 527.0,286.1 527.8,286.2 528.5,286.1 529.2,286.0 530.0,285.9 530.8,286.0 531.5,286.2 532.2,286.5 533.0,286.6 533.8,286.4 534.5,286.1 535.2,285.8 536.0,285.6 536.8,285.7 537.5,285.7 538.2,285.8 539.0,285.9 539.8,286.1 540.5,286.3 541.2,286.5 542.0,286.5 542.8,286.5 543.5,286.4 544.2,286.3 545.0,286.2 545.8,286.0 546.5,286.1 547.2,286.2 548.0,286.3 548.8,286.4 549.5,286.5 550.2,286.5 551.0,286.5 551.8,286.4 552.5,286.3 553.2,286.2 554.0,286.3 554.8,286.4 555.5,286.4 556.2,286.4 557.0,286.4 557.8,286.2 558.5,286.1 559.2,285.9 560.0,285.8 560.8,285.8 561.5,286.0 562.2,286.2 563.0,286.2 563.8,286.0 564.5,285.7 565.2,285.4 566.0,285.4 566.8,285.6 567.5,285.9 568.2,286.0 569.0,286.0 569.8,285.9 570.5,285.7 571.2,285.8 572.0,286.1 572.8,286.5 573.5,286.8 574.2,287.0 575.0,286.8 575.8,286.6 576.5,286.4 577.2,286.4 578.0,286.4 578.8,286.4 579.5,286.4 580.2,286.2 581.0,285.9 581.8,285.6 582.5,285.5 583.2,285.6 584.0,285.7 584.8,285.8 585.5,286.0 586.2,286.2 587.0,286.3 587.8,286.2 588.5,285.9 589.2,285.7 590.0,285.8 590.8,285.9 591.5,286.1 592.2,286.2 593.0,286.2 593.8,286.2 594.5,286.3 595.2,286.5 596.0,286.6 596.8,286.6"/>
<path stroke="#B177DE" stroke-width="1.7" d="M54.5,261.0 55.2,260.9 56.0,260.7 56.8,260.7 57.5,260.8 58.2,260.9 59.0,260.8 59.8,260.7 60.5,260.7 61.2,260.9 62.0,261.0 62.8,260.9 63.5,260.8 64.2,260.7 65.0,260.7 65.8,261.0 66.5,261.4 67.2,261.9 68.0,262.3 68.8,262.6 69.5,262.8 70.2,263.0 71.0,263.0 71.8,263.1 72.5,263.0 73.2,263.0 74.0,263.0 74.8,263.0 75.5,263.0 76.2,263.0 77.0,263.0 77.8,263.0 78.5,263.0 79.2,262.9 80.0,262.8 80.8,262.7 81.5,262.7 82.2,262.6 83.0,262.6 83.8,262.5 84.5,262.6 85.2,262.7 86.0,262.7 86.8,262.6 87.5,262.4 88.2,262.4 89.0,262.6 89.8,262.8 90.5,262.9 91.2,262.9 92.0,262.8 92.8,262.7 93.5,262.6 94.2,262.7 95.0,262.7 95.8,262.9 96.5,263.2 97.2,263.3 98.0,263.4 98.8,263.3 99.5,263.1 100.2,262.8 101.0,262.6 101.8,262.4 102.5,262.2 103.2,262.1 104.0,262.2 104.8,262.3 105.5,262.3 106.2,262.2 107.0,262.2 107.8,262.1 108.5,262.0 109.2,262.0 110.0,261.9 110.8,261.9 111.5,261.9 112.2,261.9 113.0,261.9 113.8,262.0 114.5,262.2 115.2,262.3 116.0,262.3 116.8,262.1 117.5,262.0 118.2,262.0 119.0,262.2 119.8,262.4 120.5,262.4 121.2,262.3 122.0,262.2 122.8,262.0 123.5,262.0 124.2,262.2 125.0,262.5 125.8,262.7 126.5,262.8 127.2,262.7 128.0,262.6 128.8,262.6 129.5,262.6 130.2,262.6 131.0,262.5 131.8,262.3 132.5,262.2 133.2,262.4 134.0,262.5 134.8,262.4 135.5,262.1 136.2,261.8 137.0,261.6 137.8,261.7 138.5,261.8 139.2,261.8 140.0,261.7 140.8,261.8 141.5,262.0 142.2,262.3 143.0,262.6 143.8,262.7 144.5,262.6 145.2,262.3 146.0,262.0 146.8,261.7 147.5,261.9 148.2,262.3 149.0,262.7 149.8,262.9 150.5,262.9 151.2,262.8 152.0,262.6 152.8,262.4 153.5,262.2 154.2,262.1 155.0,262.2 155.8,262.4 156.5,262.7 157.2,262.7 158.0,262.7 158.8,262.6 159.5,262.3 160.2,262.2 161.0,262.3 161.8,262.3 162.5,262.2 163.2,261.9 164.0,261.5 164.8,261.3 165.5,261.4 166.2,261.5 167.0,261.4 167.8,261.0 168.5,260.5 169.2,260.0 170.0,259.5 170.8,259.2 171.5,259.2 172.2,259.7 173.0,260.5 173.8,261.4 174.5,262.1 175.2,262.5 176.0,262.7 176.8,262.7 177.5,262.6 178.2,262.5 179.0,262.5 179.8,262.6 180.5,262.5 181.2,262.2 182.0,261.8 182.8,261.4 183.5,261.2 184.2,261.2 185.0,261.4 185.8,261.5 186.5,261.5 187.2,261.6 188.0,261.6 188.8,261.7 189.5,261.8 190.2,262.0 191.0,262.2 191.8,262.4 192.5,262.5 193.2,262.6 194.0,262.5 194.8,262.3 195.5,262.1 196.2,261.8 197.0,261.5 197.8,261.3 198.5,261.2 199.2,261.3 200.0,261.5 200.8,261.6 201.5,261.6 202.2,261.5 203.0,261.5 203.8,261.6 204.5,261.8 205.2,262.0 206.0,262.0 206.8,261.9 207.5,261.5 208.2,260.7 209.0,259.6 209.8,257.2 210.5,253.3 211.2,248.4 212.0,244.7 212.8,243.0 213.5,242.8 214.2,244.7 215.0,249.1 215.8,254.0 216.5,257.4 217.2,258.9 218.0,259.2 218.8,259.0 219.5,259.0 220.2,258.9 221.0,258.8 221.8,258.7 222.5,258.7 223.2,258.8 224.0,259.0 224.8,259.2 225.5,259.3 226.2,259.1 227.0,258.9 227.8,258.8 228.5,258.7 229.2,258.5 230.0,258.1 230.8,257.5 231.5,256.6 232.2,256.0 233.0,255.9 233.8,256.3 234.5,257.3 235.2,258.2 236.0,258.8 236.8,259.0 237.5,259.0 238.2,259.0 239.0,259.0 239.8,259.1 240.5,259.4 241.2,259.8 242.0,260.0 242.8,260.1 243.5,259.9 244.2,259.7 245.0,259.5 245.8,259.3 246.5,259.1 247.2,259.0 248.0,259.1 248.8,259.4 249.5,259.7 250.2,259.8 251.0,259.8 251.8,259.6 252.5,259.5 253.2,259.4 254.0,259.4 254.8,259.3 255.5,259.3 256.2,259.4 257.0,259.5 257.8,259.6 258.5,259.6 259.2,259.7 260.0,260.1 260.8,260.4 261.5,260.4 262.2,260.3 263.0,260.1 263.8,260.1 264.5,260.2 265.2,260.4 266.0,260.4 266.8,260.6 267.5,260.9 268.2,261.3 269.0,261.6 269.8,261.8 270.5,261.5 271.2,261.1 272.0,260.7 272.8,260.5 273.5,260.5 274.2,260.7 275.0,260.8 275.8,260.7 276.5,260.6 277.2,260.5 278.0,260.6 278.8,260.7 279.5,260.7 280.2,260.6 281.0,260.4 281.8,260.2 282.5,260.1 283.2,260.0 284.0,259.9 284.8,260.1 285.5,260.5 286.2,260.8 287.0,261.2 287.8,261.6 288.5,261.9 289.2,262.3 290.0,262.5 290.8,262.7 291.5,262.7 292.2,262.7 293.0,262.6 293.8,262.6 294.5,262.7 295.2,262.9 296.0,263.0 296.8,263.1 297.5,263.1 298.2,263.0 299.0,262.9 299.8,262.6 300.5,262.3 301.2,261.9 302.0,261.5 302.8,261.2 303.5,261.0 304.2,260.9 305.0,260.9 305.8,260.8 306.5,260.9 307.2,261.3 308.0,261.8 308.8,262.3 309.5,262.5 310.2,262.4 311.0,262.1 311.8,262.1 312.5,262.2 313.2,262.4 314.0,262.5 314.8,262.4 315.5,262.2 316.2,262.2 317.0,262.1 317.8,262.2 318.5,262.3 319.2,262.5 320.0,262.6 320.8,262.7 321.5,262.7 322.2,262.7 323.0,262.7 323.8,262.6 324.5,262.5 325.2,262.4 326.0,262.2 326.8,262.2 327.5,262.3 328.2,262.5 329.0,262.7 329.8,262.8 330.5,262.8 331.2,262.8 332.0,262.7 332.8,262.7 333.5,262.5 334.2,262.4 335.0,262.6 335.8,262.8 336.5,263.2 337.2,263.4 338.0,263.5 338.8,263.4 339.5,263.2 340.2,263.0 341.0,262.8 341.8,262.6 342.5,262.7 343.2,262.7 344.0,262.7 344.8,262.7 345.5,262.9 346.2,263.2 347.0,263.4 347.8,263.5 348.5,263.4 349.2,263.3 350.0,263.3 350.8,263.3 351.5,263.3 352.2,263.3 353.0,263.3 353.8,263.2 354.5,263.1 355.2,263.2 356.0,263.3 356.8,263.6 357.5,263.8 358.2,264.0 359.0,264.3 359.8,264.5 360.5,264.6 361.2,264.5 362.0,264.2 362.8,263.9 363.5,263.8 364.2,263.8 365.0,263.8 365.8,263.9 366.5,263.9 367.2,263.9 368.0,263.8 368.8,263.7 369.5,263.7 370.2,263.8 371.0,264.0 371.8,264.0 372.5,263.8 373.2,263.6 374.0,263.4 374.8,263.3 375.5,263.3 376.2,263.4 377.0,263.6 377.8,263.7 378.5,263.7 379.2,263.5 380.0,262.7 380.8,261.5 381.5,260.2 382.2,259.5 383.0,259.7 383.8,260.6 384.5,261.5 385.2,262.2 386.0,262.8 386.8,263.2 387.5,263.5 388.2,263.6 389.0,263.7 389.8,263.8 390.5,263.9 391.2,263.8 392.0,263.8 392.8,263.9 393.5,264.0 394.2,264.0 395.0,263.9 395.8,263.7 396.5,263.6 397.2,263.5 398.0,263.6 398.8,263.7 399.5,263.7 400.2,263.7 401.0,263.7 401.8,263.7 402.5,263.7 403.2,263.7 404.0,263.7 404.8,263.7 405.5,263.8 406.2,263.9 407.0,264.1 407.8,264.3 408.5,264.6 409.2,264.8 410.0,265.0 410.8,265.0 411.5,264.9 412.2,264.7 413.0,264.4 413.8,264.1 414.5,263.8 415.2,263.6 416.0,263.6 416.8,263.8 417.5,263.9 418.2,264.0 419.0,264.0 419.8,263.8 420.5,263.4 421.2,263.1 422.0,262.9 422.8,263.1 423.5,263.5 424.2,263.9 425.0,264.1 425.8,264.2 426.5,264.3 427.2,264.5 428.0,264.7 428.8,264.7 429.5,264.6 430.2,264.3 431.0,263.9 431.8,263.7 432.5,263.7 433.2,263.9 434.0,264.2 434.8,264.3 435.5,264.4 436.2,264.3 437.0,264.1 437.8,263.9 438.5,263.6 439.2,263.5 440.0,263.5 440.8,263.9 441.5,264.4 442.2,264.8 443.0,264.9 443.8,264.9 444.5,264.9 445.2,264.9 446.0,264.9 446.8,264.9 447.5,264.8 448.2,264.6 449.0,264.3 449.8,263.9 450.5,263.5 451.2,263.1 452.0,262.8 452.8,262.6 453.5,262.6 454.2,262.8 455.0,263.2 455.8,263.7 456.5,264.1 457.2,264.2 458.0,264.2 458.8,264.2 459.5,264.3 460.2,264.5 461.0,264.8 461.8,264.9 462.5,264.6 463.2,264.3 464.0,263.9 464.8,263.6 465.5,263.6 466.2,263.8 467.0,264.1 467.8,264.4 468.5,264.7 469.2,264.8 470.0,264.8 470.8,264.7 471.5,264.8 472.2,264.9 473.0,265.0 473.8,264.9 474.5,264.9 475.2,264.9 476.0,265.0 476.8,265.1 477.5,265.1 478.2,265.1 479.0,265.1 479.8,265.0 480.5,265.0 481.2,265.1 482.0,265.3 482.8,265.4 483.5,265.4 484.2,265.4 485.0,265.3 485.8,265.3 486.5,265.4 487.2,265.4 488.0,265.3 488.8,264.9 489.5,264.6 490.2,264.3 491.0,264.4 491.8,264.7 492.5,264.9 493.2,265.0 494.0,265.0 494.8,265.1 495.5,265.3 496.2,265.4 497.0,265.4 497.8,265.4 498.5,265.5 499.2,265.6 500.0,265.7 500.8,265.7 501.5,265.7 502.2,265.7 503.0,265.6 503.8,265.5 504.5,265.2 505.2,264.9 506.0,264.7 506.8,264.8 507.5,265.0 508.2,265.0 509.0,264.9 509.8,264.4 510.5,263.7 511.2,263.2 512.0,263.0 512.8,263.2 513.5,263.7 514.2,264.2 515.0,264.5 515.8,264.6 516.5,264.7 517.2,264.9 518.0,265.1 518.8,265.3 519.5,265.4 520.2,265.4 521.0,265.5 521.8,265.7 522.5,266.0 523.2,266.2 524.0,266.1 524.8,266.0 525.5,265.7 526.2,265.6 527.0,265.6 527.8,265.7 528.5,265.9 529.2,266.2 530.0,266.3 530.8,266.3 531.5,266.3 532.2,266.1 533.0,266.1 533.8,266.0 534.5,265.9 535.2,265.7 536.0,265.5 536.8,265.5 537.5,265.6 538.2,265.7 539.0,265.9 539.8,265.9 540.5,265.7 541.2,265.5 542.0,265.3 542.8,265.3 543.5,265.4 544.2,265.6 545.0,265.9 545.8,266.1 546.5,266.4 547.2,266.5 548.0,266.5 548.8,266.3 549.5,266.0 550.2,265.8 551.0,265.6 551.8,265.5 552.5,265.7 553.2,266.0 554.0,266.0 554.8,265.7 555.5,265.3 556.2,265.0 557.0,265.0 557.8,265.3 558.5,265.6 559.2,265.7 560.0,265.7 560.8,265.6 561.5,265.7 562.2,265.9 563.0,266.0 563.8,266.1 564.5,265.9 565.2,265.9 566.0,265.9 566.8,265.9 567.5,265.9 568.2,265.9 569.0,266.0 569.8,266.1 570.5,266.2 571.2,266.2 572.0,266.2 572.8,266.1 573.5,266.1 574.2,266.1 575.0,266.1 575.8,265.9 576.5,265.8 577.2,265.7 578.0,265.8 578.8,266.1 579.5,266.4 580.2,266.7 581.0,266.9 581.8,266.9 582.5,266.8 583.2,266.5 584.0,266.3 584.8,266.2 585.5,266.4 586.2,266.7 587.0,266.9 587.8,266.9 588.5,266.7 589.2,266.6 590.0,266.6 590.8,266.6 591.5,266.6 592.2,266.6 593.0,266.6 593.8,266.5 594.5,266.6 595.2,266.7 596.0,266.7 596.8,266.6"/>
<path stroke="#CC9900" stroke-width="1.8" d="M54.5,233.1 55.2,233.3 56.0,233.2 56.8,233.0 57.5,232.8 58.2,232.8 59.0,232.9 59.8,232.9 60.5,232.9 61.2,232.9 62.0,233.0 62.8,233.0 63.5,233.0 64.2,233.2 65.0,233.6 65.8,233.9 66.5,234.2 67.2,234.3 68.0,234.2 68.8,234.1 69.5,234.0 70.2,233.9 71.0,233.9 71.8,233.8 72.5,233.7 73.2,233.7 74.0,233.6 74.8,233.6 75.5,233.6 76.2,233.7 77.0,233.7 77.8,233.9 78.5,234.1 79.2,234.3 80.0,234.4 80.8,234.4 81.5,234.4 82.2,234.3 83.0,234.2 83.8,234.1 84.5,234.2 85.2,234.3 86.0,234.4 86.8,234.2 87.5,233.9 88.2,233.6 89.0,233.4 89.8,233.3 90.5,233.4 91.2,233.3 92.0,233.1 92.8,232.8 93.5,232.6 94.2,232.4 95.0,232.4 95.8,232.7 96.5,233.0 97.2,233.4 98.0,233.5 98.8,233.3 99.5,232.9 100.2,232.5 101.0,232.2 101.8,232.3 102.5,232.7 103.2,232.9 104.0,232.9 104.8,232.7 105.5,232.5 106.2,232.5 107.0,232.8 107.8,233.0 108.5,232.9 109.2,232.6 110.0,232.2 110.8,231.9 111.5,231.7 112.2,231.5 113.0,231.5 113.8,231.6 114.5,231.8 115.2,232.0 116.0,232.0 116.8,231.9 117.5,231.8 118.2,231.7 119.0,231.7 119.8,231.9 120.5,232.1 121.2,232.4 122.0,232.5 122.8,232.4 123.5,232.2 124.2,232.0 125.0,232.0 125.8,232.0 126.5,232.2 127.2,232.4 128.0,232.7 128.8,233.0 129.5,233.2 130.2,233.4 131.0,233.5 131.8,233.7 132.5,233.8 133.2,233.8 134.0,233.8 134.8,233.8 135.5,233.8 136.2,233.7 137.0,233.5 137.8,233.3 138.5,233.3 139.2,233.4 140.0,233.4 140.8,233.3 141.5,233.2 142.2,233.1 143.0,233.3 143.8,233.4 144.5,233.4 145.2,233.2 146.0,232.9 146.8,232.9 147.5,233.0 148.2,233.2 149.0,233.3 149.8,233.3 150.5,233.2 151.2,233.1 152.0,233.1 152.8,233.2 153.5,233.3 154.2,233.2 155.0,233.0 155.8,232.7 156.5,232.5 157.2,232.5 158.0,232.6 158.8,232.7 159.5,232.5 160.2,232.2 161.0,231.9 161.8,231.9 162.5,232.3 163.2,232.7 164.0,233.0 164.8,233.0 165.5,233.0 166.2,233.0 167.0,233.1 167.8,232.9 168.5,232.1 169.2,230.4 170.0,228.1 170.8,226.3 171.5,226.3 172.2,228.3 173.0,230.7 173.8,232.2 174.5,232.8 175.2,232.8 176.0,232.6 176.8,232.5 177.5,232.4 178.2,232.5 179.0,232.6 179.8,232.9 180.5,233.1 181.2,233.1 182.0,233.0 182.8,233.0 183.5,233.0 184.2,233.1 185.0,233.3 185.8,233.3 186.5,233.2 187.2,233.1 188.0,233.0 188.8,233.0 189.5,232.9 190.2,232.8 191.0,232.6 191.8,232.3 192.5,232.3 193.2,232.4 194.0,232.5 194.8,232.5 195.5,232.5 196.2,232.4 197.0,232.6 197.8,232.7 198.5,232.8 199.2,232.6 200.0,232.4 200.8,232.2 201.5,232.0 202.2,231.9 203.0,231.9 203.8,231.8 204.5,231.9 205.2,231.9 206.0,232.0 206.8,232.0 207.5,232.1 208.2,232.0 209.0,231.3 209.8,228.4 210.5,220.3 211.2,206.6 212.0,193.4 212.8,187.9 213.5,190.0 214.2,200.7 215.0,215.0 215.8,225.0 216.5,228.9 217.2,229.7 218.0,229.7 218.8,229.7 219.5,229.8 220.2,229.9 221.0,229.9 221.8,229.7 222.5,229.6 223.2,229.6 224.0,229.6 224.8,229.5 225.5,229.4 226.2,229.3 227.0,229.2 227.8,229.1 228.5,228.7 229.2,228.1 230.0,227.4 230.8,226.6 231.5,225.8 232.2,225.2 233.0,225.0 233.8,225.2 234.5,225.8 235.2,226.6 236.0,227.5 236.8,228.3 237.5,228.8 238.2,229.1 239.0,229.2 239.8,229.2 240.5,229.2 241.2,229.2 242.0,229.2 242.8,229.2 243.5,229.3 244.2,229.2 245.0,229.1 245.8,229.1 246.5,229.2 247.2,229.4 248.0,229.5 248.8,229.6 249.5,229.7 250.2,229.8 251.0,229.9 251.8,229.9 252.5,229.8 253.2,229.7 254.0,229.7 254.8,229.9 255.5,230.2 256.2,230.3 257.0,230.4 257.8,230.4 258.5,230.3 259.2,230.4 260.0,230.6 260.8,231.0 261.5,231.4 262.2,231.7 263.0,231.8 263.8,231.9 264.5,231.9 265.2,231.8 266.0,231.7 266.8,231.7 267.5,231.8 268.2,232.0 269.0,232.1 269.8,232.1 270.5,232.2 271.2,232.3 272.0,232.4 272.8,232.5 273.5,232.6 274.2,232.8 275.0,232.9 275.8,233.1 276.5,233.2 277.2,233.1 278.0,233.0 278.8,232.8 279.5,232.7 280.2,232.5 281.0,232.3 281.8,232.0 282.5,231.4 283.2,230.9 284.0,230.6 284.8,230.7 285.5,231.2 286.2,231.7 287.0,232.1 287.8,232.2 288.5,232.2 289.2,232.1 290.0,232.1 290.8,232.1 291.5,232.3 292.2,232.6 293.0,232.8 293.8,232.8 294.5,232.9 295.2,232.9 296.0,232.9 296.8,232.9 297.5,232.8 298.2,232.6 299.0,232.5 299.8,232.5 300.5,232.5 301.2,232.4 302.0,232.2 302.8,231.6 303.5,230.7 304.2,229.8 305.0,229.4 305.8,229.7 306.5,230.6 307.2,231.4 308.0,232.0 308.8,232.2 309.5,232.2 310.2,231.9 311.0,231.3 311.8,231.0 312.5,231.1 313.2,231.7 314.0,232.4 314.8,232.8 315.5,233.1 316.2,233.3 317.0,233.3 317.8,233.2 318.5,233.1 319.2,233.1 320.0,233.1 320.8,233.3 321.5,233.4 322.2,233.3 323.0,233.2 323.8,233.0 324.5,232.7 325.2,232.2 326.0,231.4 326.8,230.5 327.5,230.3 328.2,231.0 329.0,232.1 329.8,232.9 330.5,233.3 331.2,233.4 332.0,233.4 332.8,233.6 333.5,233.8 334.2,233.9 335.0,233.9 335.8,233.9 336.5,233.9 337.2,234.0 338.0,234.3 338.8,234.7 339.5,234.9 340.2,235.0 341.0,234.9 341.8,234.7 342.5,234.5 343.2,234.5 344.0,234.6 344.8,234.7 345.5,234.7 346.2,234.7 347.0,234.5 347.8,234.3 348.5,233.9 349.2,233.3 350.0,232.5 350.8,231.9 351.5,231.7 352.2,232.2 353.0,232.9 353.8,233.6 354.5,234.0 355.2,234.1 356.0,234.1 356.8,234.1 357.5,234.1 358.2,234.0 359.0,233.9 359.8,233.7 360.5,233.5 361.2,233.5 362.0,233.4 362.8,233.4 363.5,233.1 364.2,232.9 365.0,232.7 365.8,232.8 366.5,233.0 367.2,233.3 368.0,233.4 368.8,233.5 369.5,233.5 370.2,233.5 371.0,233.5 371.8,233.5 372.5,233.7 373.2,233.7 374.0,233.8 374.8,233.8 375.5,234.0 376.2,234.3 377.0,234.6 377.8,234.8 378.5,234.8 379.2,234.5 380.0,233.4 380.8,231.1 381.5,227.9 382.2,225.9 383.0,226.7 383.8,229.5 384.5,232.2 385.2,233.7 386.0,234.3 386.8,234.5 387.5,234.5 388.2,234.6 389.0,234.6 389.8,234.7 390.5,234.8 391.2,235.0 392.0,235.1 392.8,235.1 393.5,235.0 394.2,234.7 395.0,234.5 395.8,234.3 396.5,234.3 397.2,234.3 398.0,234.5 398.8,234.8 399.5,235.1 400.2,235.3 401.0,235.3 401.8,235.3 402.5,235.2 403.2,235.1 404.0,235.0 404.8,234.8 405.5,234.7 406.2,234.5 407.0,234.3 407.8,234.0 408.5,233.9 409.2,233.9 410.0,234.2 410.8,234.4 411.5,234.4 412.2,234.3 413.0,234.1 413.8,233.8 414.5,233.4 415.2,232.9 416.0,232.4 416.8,232.3 417.5,232.7 418.2,233.4 419.0,234.0 419.8,234.4 420.5,234.6 421.2,234.6 422.0,234.6 422.8,234.7 423.5,234.7 424.2,234.5 425.0,234.4 425.8,234.3 426.5,234.5 427.2,234.7 428.0,235.0 428.8,235.2 429.5,235.2 430.2,235.0 431.0,234.8 431.8,234.8 432.5,235.0 433.2,235.0 434.0,234.9 434.8,234.4 435.5,233.9 436.2,233.5 437.0,233.4 437.8,233.6 438.5,234.0 439.2,234.4 440.0,234.6 440.8,234.6 441.5,234.5 442.2,234.3 443.0,234.3 443.8,234.3 444.5,234.4 445.2,234.6 446.0,234.8 446.8,235.0 447.5,235.2 448.2,235.3 449.0,235.3 449.8,235.1 450.5,234.6 451.2,233.3 452.0,231.3 452.8,229.6 453.5,229.3 454.2,230.7 455.0,232.3 455.8,233.1 456.5,233.3 457.2,233.6 458.0,234.2 458.8,234.8 459.5,235.1 460.2,235.2 461.0,235.2 461.8,235.3 462.5,235.5 463.2,235.6 464.0,235.7 464.8,235.8 465.5,235.8 466.2,235.7 467.0,235.7 467.8,235.6 468.5,235.5 469.2,235.5 470.0,235.5 470.8,235.4 471.5,235.3 472.2,235.2 473.0,235.2 473.8,235.2 474.5,235.1 475.2,234.9 476.0,234.6 476.8,234.4 477.5,234.3 478.2,234.4 479.0,234.7 479.8,235.1 480.5,235.4 481.2,235.5 482.0,235.6 482.8,235.6 483.5,235.6 484.2,235.5 485.0,235.3 485.8,235.3 486.5,235.1 487.2,234.9 488.0,234.8 488.8,234.7 489.5,234.8 490.2,235.0 491.0,235.1 491.8,235.0 492.5,235.0 493.2,235.0 494.0,235.0 494.8,235.2 495.5,235.4 496.2,235.6 497.0,235.8 497.8,235.9 498.5,235.8 499.2,235.6 500.0,235.4 500.8,235.3 501.5,235.2 502.2,235.2 503.0,235.3 503.8,235.4 504.5,235.6 505.2,235.7 506.0,235.6 506.8,235.1 507.5,234.4 508.2,233.6 509.0,232.6 509.8,231.4 510.5,230.2 511.2,229.0 512.0,228.3 512.8,228.4 513.5,229.4 514.2,231.0 515.0,232.6 515.8,233.9 516.5,234.8 517.2,235.2 518.0,235.3 518.8,235.2 519.5,235.1 520.2,235.2 521.0,235.4 521.8,235.7 522.5,235.8 523.2,235.7 524.0,235.4 524.8,235.2 525.5,235.0 526.2,235.1 527.0,235.3 527.8,235.4 528.5,235.5 529.2,235.6 530.0,235.5 530.8,235.5 531.5,235.5 532.2,235.5 533.0,235.6 533.8,235.6 534.5,235.4 535.2,235.1 536.0,234.9 536.8,234.9 537.5,235.2 538.2,235.5 539.0,235.8 539.8,235.7 540.5,235.5 541.2,235.3 542.0,235.0 542.8,234.9 543.5,235.0 544.2,235.2 545.0,235.3 545.8,235.4 546.5,235.4 547.2,235.3 548.0,235.2 548.8,234.9 549.5,234.6 550.2,234.2 551.0,234.1 551.8,234.2 552.5,234.5 553.2,234.9 554.0,235.4 554.8,235.9 555.5,236.2 556.2,236.4 557.0,236.4 557.8,236.4 558.5,236.4 559.2,236.3 560.0,236.2 560.8,236.1 561.5,236.0 562.2,235.8 563.0,235.6 563.8,235.3 564.5,234.9 565.2,234.6 566.0,234.3 566.8,234.3 567.5,234.4 568.2,234.6 569.0,235.0 569.8,235.4 570.5,235.8 571.2,236.0 572.0,236.1 572.8,236.1 573.5,236.2 574.2,236.4 575.0,236.5 575.8,236.5 576.5,236.4 577.2,236.3 578.0,236.3 578.8,236.4 579.5,236.5 580.2,236.5 581.0,236.4 581.8,236.3 582.5,236.3 583.2,236.3 584.0,236.2 584.8,236.1 585.5,235.9 586.2,235.8 587.0,235.8 587.8,236.0 588.5,236.0 589.2,235.9 590.0,235.7 590.8,235.6 591.5,235.7 592.2,235.8 593.0,235.8 593.8,235.6 594.5,235.4 595.2,235.3 596.0,235.3 596.8,235.3"/>
<path stroke="#00CBCC" stroke-width="1.8" d="M54.5,178.5 55.2,178.4 56.0,178.4 56.8,178.3 57.5,178.3 58.2,178.4 59.0,178.6 59.8,178.7 60.5,178.5 61.2,178.3 62.0,178.2 62.8,178.4 63.5,178.7 64.2,178.9 65.0,179.1 65.8,179.3 66.5,179.4 67.2,179.4 68.0,179.4 68.8,179.4 69.5,179.4 70.2,179.4 71.0,179.4 71.8,179.4 72.5,179.5 73.2,179.6 74.0,179.8 74.8,180.0 75.5,180.2 76.2,180.4 77.0,180.5 77.8,180.5 78.5,180.3 79.2,180.1 80.0,180.0 80.8,180.0 81.5,180.0 82.2,179.9 83.0,179.8 83.8,179.7 84.5,179.7 85.2,179.9 86.0,180.1 86.8,180.2 87.5,180.2 88.2,180.2 89.0,180.2 89.8,180.2 90.5,180.3 91.2,180.4 92.0,180.5 92.8,180.4 93.5,180.2 94.2,180.0 95.0,179.8 95.8,179.7 96.5,179.6 97.2,179.4 98.0,179.3 98.8,179.2 99.5,179.3 100.2,179.4 101.0,179.4 101.8,179.2 102.5,179.1 103.2,179.1 104.0,179.0 104.8,179.0 105.5,178.8 106.2,178.5 107.0,178.4 107.8,178.5 108.5,178.7 109.2,178.9 110.0,178.9 110.8,178.6 111.5,178.3 112.2,178.3 113.0,178.5 113.8,178.7 114.5,178.9 115.2,179.1 116.0,179.1 116.8,179.0 117.5,179.0 118.2,178.9 119.0,178.7 119.8,178.6 120.5,178.6 121.2,178.7 122.0,178.7 122.8,178.7 123.5,178.6 124.2,178.4 125.0,178.4 125.8,178.5 126.5,178.5 127.2,178.4 128.0,178.3 128.8,178.2 129.5,178.3 130.2,178.5 131.0,178.7 131.8,178.7 132.5,178.6 133.2,178.5 134.0,178.5 134.8,178.6 135.5,178.8 136.2,178.9 137.0,178.7 137.8,178.4 138.5,178.3 139.2,178.3 140.0,178.4 140.8,178.5 141.5,178.5 142.2,178.6 143.0,178.7 143.8,178.8 144.5,178.8 145.2,178.7 146.0,178.6 146.8,178.5 147.5,178.5 148.2,178.5 149.0,178.6 149.8,178.8 150.5,179.0 151.2,179.1 152.0,179.1 152.8,179.1 153.5,179.2 154.2,179.4 155.0,179.6 155.8,179.6 156.5,179.3 157.2,178.9 158.0,178.6 158.8,178.4 159.5,178.4 160.2,178.4 161.0,178.5 161.8,178.5 162.5,178.5 163.2,178.6 164.0,178.8 164.8,179.1 165.5,179.2 166.2,179.3 167.0,179.2 167.8,179.1 168.5,179.1 169.2,179.1 170.0,179.2 170.8,179.4 171.5,179.4 172.2,179.3 173.0,179.1 173.8,178.8 174.5,178.5 175.2,178.2 176.0,177.9 176.8,177.8 177.5,177.8 178.2,177.9 179.0,178.0 179.8,178.1 180.5,178.3 181.2,178.6 182.0,178.8 182.8,178.7 183.5,178.2 184.2,177.7 185.0,177.2 185.8,177.1 186.5,177.3 187.2,177.7 188.0,177.8 188.8,177.6 189.5,177.3 190.2,177.0 191.0,177.0 191.8,177.2 192.5,177.3 193.2,177.3 194.0,177.3 194.8,177.3 195.5,177.5 196.2,177.9 197.0,178.1 197.8,178.0 198.5,177.8 199.2,177.5 200.0,177.4 200.8,177.5 201.5,177.7 202.2,177.8 203.0,177.7 203.8,177.5 204.5,177.1 205.2,176.9 206.0,176.6 206.8,176.3 207.5,175.9 208.2,175.3 209.0,174.3 209.8,173.1 210.5,171.8 211.2,170.9 212.0,170.9 212.8,171.8 213.5,172.9 214.2,174.0 215.0,174.6 215.8,174.9 216.5,175.1 217.2,175.2 218.0,175.3 218.8,175.4 219.5,175.5 220.2,175.6 221.0,175.7 221.8,175.8 222.5,175.9 223.2,176.1 224.0,176.2 224.8,176.1 225.5,176.0 226.2,175.8 227.0,175.7 227.8,175.6 228.5,175.2 229.2,174.6 230.0,173.7 230.8,172.6 231.5,171.7 232.2,171.3 233.0,171.3 233.8,171.9 234.5,172.6 235.2,173.5 236.0,174.3 236.8,174.7 237.5,174.9 238.2,174.8 239.0,174.7 239.8,174.7 240.5,174.8 241.2,174.8 242.0,174.8 242.8,174.8 243.5,174.8 244.2,174.8 245.0,174.9 245.8,175.0 246.5,175.2 247.2,175.3 248.0,175.4 248.8,175.3 249.5,175.1 250.2,175.0 251.0,174.9 251.8,175.0 252.5,175.1 253.2,175.1 254.0,175.1 254.8,175.0 255.5,174.9 256.2,174.9 257.0,174.9 257.8,174.9 258.5,175.0 259.2,175.3 260.0,175.6 260.8,175.7 261.5,175.7 262.2,175.5 263.0,175.4 263.8,175.4 264.5,175.4 265.2,175.4 266.0,175.5 266.8,175.6 267.5,175.8 268.2,176.2 269.0,176.5 269.8,176.8 270.5,176.8 271.2,176.7 272.0,176.5 272.8,176.4 273.5,176.3 274.2,176.4 275.0,176.4 275.8,176.5 276.5,176.6 277.2,176.7 278.0,176.7 278.8,176.8 279.5,176.9 280.2,176.9 281.0,176.8 281.8,176.8 282.5,176.9 283.2,177.1 284.0,177.2 284.8,177.3 285.5,177.4 286.2,177.5 287.0,177.7 287.8,177.9 288.5,178.1 289.2,178.3 290.0,178.4 290.8,178.5 291.5,178.6 292.2,178.6 293.0,178.6 293.8,178.7 294.5,178.6 295.2,178.5 296.0,178.4 296.8,178.2 297.5,178.1 298.2,178.1 299.0,178.2 299.8,178.2 300.5,178.1 301.2,178.1 302.0,178.2 302.8,178.3 303.5,178.5 304.2,178.6 305.0,178.4 305.8,177.7 306.5,176.8 307.2,176.2 308.0,176.5 308.8,177.5 309.5,178.4 310.2,178.8 311.0,178.9 311.8,178.6 312.5,178.0 313.2,177.4 314.0,177.3 314.8,177.6 315.5,178.2 316.2,178.7 317.0,179.0 317.8,179.1 318.5,179.1 319.2,179.1 320.0,179.0 320.8,178.7 321.5,178.3 322.2,177.9 323.0,177.7 323.8,177.9 324.5,178.3 325.2,178.8 326.0,179.1 326.8,179.0 327.5,178.8 328.2,178.8 329.0,179.1 329.8,179.5 330.5,179.7 331.2,179.8 332.0,179.7 332.8,179.6 333.5,179.8 334.2,180.1 335.0,180.5 335.8,180.8 336.5,180.9 337.2,180.9 338.0,180.6 338.8,180.2 339.5,180.0 340.2,179.9 341.0,180.0 341.8,180.2 342.5,180.3 343.2,180.5 344.0,180.5 344.8,180.5 345.5,180.4 346.2,180.2 347.0,180.1 347.8,179.9 348.5,179.9 349.2,180.0 350.0,180.1 350.8,180.3 351.5,180.3 352.2,180.2 353.0,179.9 353.8,179.6 354.5,179.6 355.2,179.8 356.0,180.2 356.8,180.5 357.5,180.7 358.2,180.7 359.0,180.6 359.8,180.5 360.5,180.4 361.2,180.4 362.0,180.5 362.8,180.6 363.5,180.8 364.2,181.1 365.0,181.3 365.8,181.2 366.5,180.9 367.2,180.6 368.0,180.5 368.8,180.5 369.5,180.4 370.2,180.1 371.0,179.8 371.8,179.5 372.5,179.4 373.2,179.5 374.0,179.6 374.8,179.9 375.5,180.0 376.2,180.0 377.0,179.9 377.8,179.7 378.5,179.7 379.2,179.8 380.0,180.0 380.8,180.1 381.5,180.0 382.2,179.7 383.0,179.4 383.8,179.3 384.5,179.3 385.2,179.5 386.0,179.8 386.8,179.9 387.5,179.9 388.2,179.9 389.0,179.9 389.8,180.0 390.5,180.3 391.2,180.6 392.0,180.7 392.8,180.6 393.5,180.4 394.2,180.1 395.0,179.9 395.8,179.9 396.5,180.1 397.2,180.3 398.0,180.5 398.8,180.6 399.5,180.6 400.2,180.6 401.0,180.5 401.8,180.5 402.5,180.6 403.2,180.6 404.0,180.6 404.8,180.5 405.5,180.5 406.2,180.5 407.0,180.4 407.8,180.4 408.5,180.3 409.2,180.4 410.0,180.5 410.8,180.5 411.5,180.5 412.2,180.6 413.0,180.8 413.8,181.0 414.5,181.0 415.2,181.0 416.0,180.9 416.8,181.1 417.5,181.3 418.2,181.3 419.0,181.1 419.8,180.9 420.5,180.8 421.2,180.8 422.0,180.9 422.8,180.9 423.5,180.9 424.2,181.1 425.0,181.4 425.8,181.7 426.5,181.8 427.2,181.8 428.0,181.8 428.8,181.7 429.5,181.7 430.2,181.7 431.0,181.6 431.8,181.4 432.5,181.2 433.2,181.0 434.0,180.8 434.8,180.6 435.5,180.7 436.2,180.8 437.0,180.9 437.8,181.1 438.5,181.3 439.2,181.4 440.0,181.4 440.8,181.3 441.5,181.0 442.2,180.8 443.0,180.7 443.8,180.7 444.5,180.7 445.2,180.7 446.0,180.7 446.8,180.6 447.5,180.6 448.2,180.6 449.0,180.6 449.8,180.8 450.5,181.0 451.2,181.0 452.0,180.9 452.8,180.8 453.5,180.5 454.2,180.2 455.0,179.8 455.8,179.5 456.5,179.2 457.2,179.2 458.0,179.4 458.8,179.8 459.5,180.3 460.2,180.8 461.0,181.1 461.8,181.2 462.5,181.1 463.2,180.8 464.0,180.4 464.8,180.1 465.5,180.0 466.2,180.0 467.0,180.1 467.8,180.3 468.5,180.5 469.2,180.6 470.0,180.8 470.8,180.9 471.5,181.0 472.2,180.8 473.0,180.7 473.8,180.5 474.5,180.5 475.2,180.8 476.0,181.1 476.8,181.5 477.5,181.7 478.2,181.8 479.0,181.7 479.8,181.6 480.5,181.4 481.2,181.3 482.0,181.3 482.8,181.4 483.5,181.7 484.2,182.0 485.0,182.1 485.8,182.0 486.5,181.9 487.2,181.7 488.0,181.6 488.8,181.7 489.5,181.7 490.2,181.7 491.0,181.8 491.8,181.8 492.5,181.8 493.2,181.8 494.0,181.8 494.8,181.8 495.5,181.8 496.2,181.9 497.0,181.9 497.8,181.9 498.5,181.9 499.2,181.9 500.0,181.8 500.8,181.7 501.5,181.5 502.2,181.3 503.0,181.4 503.8,181.5 504.5,181.6 505.2,181.7 506.0,181.7 506.8,181.8 507.5,181.9 508.2,181.9 509.0,181.7 509.8,181.6 510.5,181.5 511.2,181.4 512.0,181.3 512.8,181.2 513.5,181.1 514.2,181.2 515.0,181.3 515.8,181.4 516.5,181.4 517.2,181.3 518.0,181.2 518.8,181.2 519.5,181.2 520.2,181.3 521.0,181.3 521.8,181.3 522.5,181.3 523.2,181.3 524.0,181.2 524.8,181.3 525.5,181.4 526.2,181.5 527.0,181.6 527.8,181.7 528.5,181.6 529.2,181.5 530.0,181.4 530.8,181.3 531.5,181.1 532.2,181.0 533.0,180.9 533.8,180.9 534.5,181.1 535.2,181.3 536.0,181.4 536.8,181.6 537.5,181.8 538.2,182.0 539.0,182.1 539.8,182.0 540.5,181.9 541.2,181.8 542.0,182.0 542.8,182.2 543.5,182.3 544.2,182.2 545.0,182.0 545.8,181.8 546.5,181.7 547.2,181.8 548.0,181.9 548.8,181.8 549.5,181.7 550.2,181.5 551.0,181.4 551.8,181.4 552.5,181.4 553.2,181.4 554.0,181.2 554.8,181.1 555.5,181.0 556.2,181.1 557.0,181.4 557.8,181.6 558.5,181.7 559.2,181.7 560.0,181.6 560.8,181.5 561.5,181.5 562.2,181.6 563.0,181.7 563.8,181.7 564.5,181.7 565.2,181.6 566.0,181.5 566.8,181.4 567.5,181.3 568.2,181.3 569.0,181.5 569.8,181.6 570.5,181.7 571.2,181.6 572.0,181.5 572.8,181.6 573.5,181.7 574.2,181.8 575.0,181.9 575.8,182.1 576.5,182.2 577.2,182.3 578.0,182.3 578.8,182.1 579.5,181.9 580.2,181.7 581.0,181.7 581.8,182.0 582.5,182.3 583.2,182.5 584.0,182.6 584.8,182.6 585.5,182.6 586.2,182.6 587.0,182.5 587.8,182.2 588.5,181.9 589.2,181.8 590.0,181.9 590.8,182.2 591.5,182.5 592.2,182.6 593.0,182.4 593.8,182.2 594.5,182.0 595.2,181.9 596.0,181.8 596.8,181.7"/>
<path stroke="#7D4E4E" stroke-width="1.6" d="M54.5,162.3 55.2,162.3 56.0,162.4 56.8,162.6 57.5,162.7 58.2,162.7 59.0,162.6 59.8,162.4 60.5,162.2 61.2,162.0 62.0,161.8 62.8,161.8 63.5,162.0 64.2,162.4 65.0,162.9 65.8,163.3 66.5,163.6 67.2,163.8 68.0,164.0 68.8,164.0 69.5,163.9 70.2,163.9 71.0,163.9 71.8,163.9 72.5,163.9 73.2,163.8 74.0,163.9 74.8,164.1 75.5,164.3 76.2,164.3 77.0,164.1 77.8,163.9 78.5,163.8 79.2,163.9 80.0,163.9 80.8,163.8 81.5,163.6 82.2,163.4 83.0,163.3 83.8,163.3 84.5,163.3 85.2,163.4 86.0,163.5 86.8,163.5 87.5,163.5 88.2,163.6 89.0,163.7 89.8,163.9 90.5,163.9 91.2,163.9 92.0,163.8 92.8,163.7 93.5,163.6 94.2,163.6 95.0,163.4 95.8,163.1 96.5,162.7 97.2,162.4 98.0,162.3 98.8,162.4 99.5,162.6 100.2,162.8 101.0,162.8 101.8,162.7 102.5,162.7 103.2,162.6 104.0,162.5 104.8,162.5 105.5,162.4 106.2,162.3 107.0,162.1 107.8,162.0 108.5,162.0 109.2,162.1 110.0,162.4 110.8,162.6 111.5,162.5 112.2,162.3 113.0,162.1 113.8,162.1 114.5,162.2 115.2,162.3 116.0,162.4 116.8,162.6 117.5,162.7 118.2,162.8 119.0,162.7 119.8,162.5 120.5,162.4 121.2,162.3 122.0,162.3 122.8,162.3 123.5,162.3 124.2,162.3 125.0,162.3 125.8,162.1 126.5,162.0 127.2,161.8 128.0,161.7 128.8,161.8 129.5,162.0 130.2,162.1 131.0,162.2 131.8,162.2 132.5,162.2 133.2,162.0 134.0,161.7 134.8,161.4 135.5,161.4 136.2,161.6 137.0,161.8 137.8,161.9 138.5,161.8 139.2,161.6 140.0,161.6 140.8,161.8 141.5,162.1 142.2,162.3 143.0,162.3 143.8,162.2 144.5,162.1 145.2,162.0 146.0,162.0 146.8,162.1 147.5,162.2 148.2,162.3 149.0,162.3 149.8,162.2 150.5,162.0 151.2,161.7 152.0,161.5 152.8,161.5 153.5,161.5 154.2,161.5 155.0,161.3 155.8,161.2 156.5,161.1 157.2,161.2 158.0,161.5 158.8,161.7 159.5,161.8 160.2,161.8 161.0,161.8 161.8,161.8 162.5,161.8 163.2,161.7 164.0,161.6 164.8,161.6 165.5,161.8 166.2,162.0 167.0,162.2 167.8,162.3 168.5,162.3 169.2,161.9 170.0,161.2 170.8,160.3 171.5,159.4 172.2,159.2 173.0,159.9 173.8,161.2 174.5,162.3 175.2,163.0 176.0,163.3 176.8,163.3 177.5,163.2 178.2,163.0 179.0,162.8 179.8,162.7 180.5,162.6 181.2,162.4 182.0,162.2 182.8,162.0 183.5,162.0 184.2,162.0 185.0,162.1 185.8,162.2 186.5,162.2 187.2,162.2 188.0,162.3 188.8,162.5 189.5,162.7 190.2,162.8 191.0,162.8 191.8,162.8 192.5,162.7 193.2,162.7 194.0,162.7 194.8,162.7 195.5,162.6 196.2,162.4 197.0,162.2 197.8,161.9 198.5,161.8 199.2,161.7 200.0,161.8 200.8,161.8 201.5,162.0 202.2,162.1 203.0,162.1 203.8,162.0 204.5,161.8 205.2,161.5 206.0,161.1 206.8,160.8 207.5,160.6 208.2,160.5 209.0,160.4 209.8,160.0 210.5,158.2 211.2,154.0 212.0,147.6 212.8,142.2 213.5,140.9 214.2,143.9 215.0,150.1 215.8,155.8 216.5,158.9 217.2,160.0 218.0,160.1 218.8,159.9 219.5,159.7 220.2,159.5 221.0,159.3 221.8,159.1 222.5,159.0 223.2,158.9 224.0,158.9 224.8,158.9 225.5,159.1 226.2,159.2 227.0,159.3 227.8,159.2 228.5,159.0 229.2,158.7 230.0,158.2 230.8,157.5 231.5,156.7 232.2,155.8 233.0,155.2 233.8,155.3 234.5,155.9 235.2,156.8 236.0,157.5 236.8,157.9 237.5,158.2 238.2,158.5 239.0,158.7 239.8,158.8 240.5,158.8 241.2,158.6 242.0,158.5 242.8,158.4 243.5,158.2 244.2,158.1 245.0,158.0 245.8,158.1 246.5,158.5 247.2,158.9 248.0,159.2 248.8,159.4 249.5,159.4 250.2,159.4 251.0,159.4 251.8,159.4 252.5,159.4 253.2,159.4 254.0,159.4 254.8,159.4 255.5,159.4 256.2,159.4 257.0,159.4 257.8,159.5 258.5,159.8 259.2,160.0 260.0,159.9 260.8,159.7 261.5,159.5 262.2,159.5 263.0,159.7 263.8,159.9 264.5,160.1 265.2,160.2 266.0,160.2 266.8,160.2 267.5,160.2 268.2,160.4 269.0,160.8 269.8,161.1 270.5,161.1 271.2,160.8 272.0,160.4 272.8,160.0 273.5,160.1 274.2,160.3 275.0,160.6 275.8,160.8 276.5,160.8 277.2,160.8 278.0,160.9 278.8,160.8 279.5,160.7 280.2,160.3 281.0,159.6 281.8,158.9 282.5,158.6 283.2,158.8 284.0,159.5 284.8,160.2 285.5,160.7 286.2,160.9 287.0,161.0 287.8,160.9 288.5,160.8 289.2,160.6 290.0,160.5 290.8,160.5 291.5,160.4 292.2,160.3 293.0,160.2 293.8,160.3 294.5,160.3 295.2,160.4 296.0,160.5 296.8,160.6 297.5,160.7 298.2,160.6 299.0,160.5 299.8,160.4 300.5,160.3 301.2,160.3 302.0,160.3 302.8,159.9 303.5,159.4 304.2,158.8 305.0,158.6 305.8,159.1 306.5,160.0 307.2,161.0 308.0,161.6 308.8,161.7 309.5,161.4 310.2,160.8 311.0,160.5 311.8,160.8 312.5,161.4 313.2,162.0 314.0,162.4 314.8,162.6 315.5,162.6 316.2,162.4 317.0,162.3 317.8,162.3 318.5,162.5 319.2,162.6 320.0,162.7 320.8,162.6 321.5,162.4 322.2,162.1 323.0,162.0 323.8,161.9 324.5,162.0 325.2,162.1 326.0,162.0 326.8,161.7 327.5,161.4 328.2,161.3 329.0,161.5 329.8,161.8 330.5,162.1 331.2,162.4 332.0,162.5 332.8,162.4 333.5,162.2 334.2,162.0 335.0,162.1 335.8,162.3 336.5,162.5 337.2,162.6 338.0,162.7 338.8,162.7 339.5,162.6 340.2,162.6 341.0,162.6 341.8,162.7 342.5,162.9 343.2,163.1 344.0,163.2 344.8,163.2 345.5,163.3 346.2,163.4 347.0,163.5 347.8,163.6 348.5,163.6 349.2,163.5 350.0,163.3 350.8,163.1 351.5,162.8 352.2,162.6 353.0,162.4 353.8,162.5 354.5,162.9 355.2,163.4 356.0,163.8 356.8,163.8 357.5,163.6 358.2,163.3 359.0,163.1 359.8,162.9 360.5,162.7 361.2,162.5 362.0,162.5 362.8,162.7 363.5,162.9 364.2,163.1 365.0,163.1 365.8,163.0 366.5,162.9 367.2,162.9 368.0,162.9 368.8,163.0 369.5,163.1 370.2,163.1 371.0,163.0 371.8,162.9 372.5,162.7 373.2,162.7 374.0,162.8 374.8,162.9 375.5,163.0 376.2,163.0 377.0,162.8 377.8,162.6 378.5,162.4 379.2,162.4 380.0,162.3 380.8,161.6 381.5,160.0 382.2,157.8 383.0,156.1 383.8,156.5 384.5,158.7 385.2,160.9 386.0,162.1 386.8,162.3 387.5,162.1 388.2,162.0 389.0,162.1 389.8,162.2 390.5,162.3 391.2,162.4 392.0,162.4 392.8,162.6 393.5,162.9 394.2,163.1 395.0,163.3 395.8,163.4 396.5,163.4 397.2,163.3 398.0,163.0 398.8,162.9 399.5,162.9 400.2,163.0 401.0,163.2 401.8,163.3 402.5,163.3 403.2,163.1 404.0,162.9 404.8,162.7 405.5,162.7 406.2,162.7 407.0,162.7 407.8,162.8 408.5,163.0 409.2,163.3 410.0,163.4 410.8,163.4 411.5,163.3 412.2,163.2 413.0,163.1 413.8,163.2 414.5,163.4 415.2,163.4 416.0,163.4 416.8,163.3 417.5,163.2 418.2,163.2 419.0,163.3 419.8,163.4 420.5,163.4 421.2,163.4 422.0,163.3 422.8,163.2 423.5,163.1 424.2,163.1 425.0,163.3 425.8,163.5 426.5,163.6 427.2,163.7 428.0,163.7 428.8,163.7 429.5,163.7 430.2,163.6 431.0,163.4 431.8,163.4 432.5,163.5 433.2,163.8 434.0,164.0 434.8,163.9 435.5,163.7 436.2,163.5 437.0,163.6 437.8,163.8 438.5,164.0 439.2,164.1 440.0,164.1 440.8,164.0 441.5,163.8 442.2,163.4 443.0,163.1 443.8,162.9 444.5,162.8 445.2,162.8 446.0,163.0 446.8,163.1 447.5,163.2 448.2,163.2 449.0,163.1 449.8,163.1 450.5,162.9 451.2,162.6 452.0,161.9 452.8,161.1 453.5,160.5 454.2,160.5 455.0,160.9 455.8,161.2 456.5,161.3 457.2,161.2 458.0,161.2 458.8,161.6 459.5,162.2 460.2,162.6 461.0,163.0 461.8,163.3 462.5,163.5 463.2,163.7 464.0,163.7 464.8,163.7 465.5,163.7 466.2,163.8 467.0,164.0 467.8,164.1 468.5,164.2 469.2,164.2 470.0,164.2 470.8,164.0 471.5,163.8 472.2,163.9 473.0,164.1 473.8,164.2 474.5,164.2 475.2,163.9 476.0,163.6 476.8,163.4 477.5,163.6 478.2,163.8 479.0,163.8 479.8,163.5 480.5,163.1 481.2,162.7 482.0,162.6 482.8,162.6 483.5,162.6 484.2,162.5 485.0,162.6 485.8,162.8 486.5,163.0 487.2,163.0 488.0,163.0 488.8,163.0 489.5,163.1 490.2,163.2 491.0,163.3 491.8,163.2 492.5,163.1 493.2,163.1 494.0,163.2 494.8,163.3 495.5,163.4 496.2,163.5 497.0,163.5 497.8,163.7 498.5,163.9 499.2,164.1 500.0,164.1 500.8,163.8 501.5,163.5 502.2,163.2 503.0,163.1 503.8,163.0 504.5,163.0 505.2,163.1 506.0,163.3 506.8,163.5 507.5,163.6 508.2,163.4 509.0,162.9 509.8,162.3 510.5,161.6 511.2,161.1 512.0,161.0 512.8,161.2 513.5,161.7 514.2,162.3 515.0,163.0 515.8,163.6 516.5,164.0 517.2,164.1 518.0,164.0 518.8,163.8 519.5,163.7 520.2,163.7 521.0,163.8 521.8,163.9 522.5,163.9 523.2,163.9 524.0,163.8 524.8,163.8 525.5,163.9 526.2,164.0 527.0,164.1 527.8,164.3 528.5,164.5 529.2,164.7 530.0,164.8 530.8,164.7 531.5,164.6 532.2,164.6 533.0,164.6 533.8,164.6 534.5,164.5 535.2,164.3 536.0,164.0 536.8,163.9 537.5,164.0 538.2,164.2 539.0,164.6 539.8,164.7 540.5,164.6 541.2,164.3 542.0,164.3 542.8,164.4 543.5,164.6 544.2,164.6 545.0,164.4 545.8,164.3 546.5,164.4 547.2,164.6 548.0,164.8 548.8,164.7 549.5,164.5 550.2,164.5 551.0,164.7 551.8,164.9 552.5,165.1 553.2,165.2 554.0,165.2 554.8,165.0 555.5,165.0 556.2,164.9 557.0,164.9 557.8,164.7 558.5,164.4 559.2,164.3 560.0,164.3 560.8,164.3 561.5,164.4 562.2,164.2 563.0,164.2 563.8,164.2 564.5,164.4 565.2,164.7 566.0,165.0 566.8,165.2 567.5,165.3 568.2,165.3 569.0,165.3 569.8,165.4 570.5,165.5 571.2,165.5 572.0,165.5 572.8,165.4 573.5,165.3 574.2,165.2 575.0,165.0 575.8,164.7 576.5,164.4 577.2,164.4 578.0,164.7 578.8,165.0 579.5,165.2 580.2,165.4 581.0,165.4 581.8,165.4 582.5,165.3 583.2,165.2 584.0,165.3 584.8,165.5 585.5,165.6 586.2,165.6 587.0,165.5 587.8,165.4 588.5,165.5 589.2,165.5 590.0,165.5 590.8,165.5 591.5,165.3 592.2,165.3 593.0,165.4 593.8,165.5 594.5,165.4 595.2,165.2 596.0,164.8 596.8,164.7"/>
<path stroke="#8E8E00" stroke-width="1.8" d="M54.5,127.9 55.2,128.0 56.0,128.0 56.8,128.1 57.5,128.3 58.2,128.7 59.0,129.2 59.8,129.8 60.5,130.4 61.2,130.8 62.0,131.1 62.8,131.2 63.5,131.2 64.2,131.2 65.0,131.3 65.8,131.4 66.5,131.7 67.2,132.0 68.0,132.2 68.8,132.5 69.5,132.5 70.2,132.4 71.0,132.3 71.8,132.1 72.5,132.2 73.2,132.3 74.0,132.5 74.8,132.5 75.5,132.5 76.2,132.5 77.0,132.7 77.8,132.9 78.5,133.0 79.2,133.1 80.0,133.2 80.8,133.3 81.5,133.4 82.2,133.4 83.0,133.3 83.8,133.1 84.5,132.8 85.2,132.6 86.0,132.4 86.8,132.5 87.5,132.7 88.2,132.8 89.0,132.7 89.8,132.5 90.5,132.4 91.2,132.4 92.0,132.4 92.8,132.4 93.5,132.2 94.2,132.1 95.0,132.0 95.8,131.9 96.5,131.7 97.2,131.7 98.0,131.7 98.8,131.8 99.5,131.9 100.2,131.8 101.0,131.5 101.8,131.2 102.5,131.0 103.2,130.9 104.0,131.0 104.8,131.1 105.5,131.2 106.2,131.3 107.0,131.3 107.8,131.3 108.5,131.4 109.2,131.4 110.0,131.4 110.8,131.3 111.5,131.2 112.2,131.1 113.0,131.1 113.8,131.2 114.5,131.3 115.2,131.4 116.0,131.5 116.8,131.6 117.5,131.5 118.2,131.5 119.0,131.6 119.8,131.5 120.5,131.5 121.2,131.3 122.0,131.2 122.8,131.1 123.5,131.2 124.2,131.3 125.0,131.5 125.8,131.8 126.5,131.9 127.2,131.9 128.0,131.8 128.8,131.7 129.5,131.6 130.2,131.4 131.0,131.2 131.8,131.1 132.5,130.9 133.2,130.8 134.0,130.8 134.8,130.9 135.5,131.2 136.2,131.4 137.0,131.4 137.8,131.4 138.5,131.3 139.2,131.3 140.0,131.3 140.8,131.3 141.5,131.1 142.2,130.9 143.0,130.6 143.8,130.4 144.5,130.1 145.2,130.0 146.0,130.0 146.8,130.1 147.5,130.2 148.2,130.2 149.0,130.2 149.8,130.2 150.5,130.4 151.2,130.7 152.0,131.0 152.8,131.2 153.5,131.3 154.2,131.4 155.0,131.5 155.8,131.8 156.5,131.9 157.2,131.9 158.0,131.8 158.8,131.6 159.5,131.4 160.2,131.3 161.0,131.2 161.8,131.1 162.5,131.1 163.2,131.1 164.0,131.2 164.8,131.2 165.5,131.1 166.2,130.9 167.0,130.2 167.8,128.8 168.5,126.5 169.2,124.1 170.0,123.0 170.8,123.9 171.5,126.0 172.2,128.2 173.0,129.6 173.8,130.2 174.5,130.4 175.2,130.3 176.0,130.2 176.8,130.2 177.5,130.1 178.2,130.2 179.0,130.2 179.8,130.2 180.5,130.1 181.2,129.9 182.0,129.7 182.8,129.5 183.5,129.6 184.2,129.7 185.0,129.9 185.8,130.1 186.5,130.0 187.2,129.7 188.0,129.3 188.8,129.0 189.5,128.8 190.2,128.9 191.0,129.0 191.8,129.0 192.5,128.8 193.2,128.6 194.0,128.5 194.8,128.5 195.5,128.5 196.2,128.6 197.0,128.5 197.8,128.4 198.5,128.4 199.2,128.6 200.0,128.6 200.8,128.5 201.5,128.2 202.2,128.2 203.0,128.2 203.8,128.4 204.5,128.5 205.2,128.5 206.0,128.4 206.8,128.2 207.5,127.8 208.2,125.8 209.0,119.1 209.8,105.6 210.5,90.6 211.2,83.0 212.0,84.3 212.8,95.0 213.5,110.6 214.2,122.0 215.0,126.6 215.8,127.5 216.5,127.5 217.2,127.3 218.0,127.1 218.8,126.9 219.5,126.9 220.2,127.1 221.0,127.3 221.8,127.6 222.5,127.7 223.2,127.7 224.0,127.6 224.8,127.5 225.5,127.3 226.2,126.8 227.0,126.2 227.8,125.4 228.5,124.6 229.2,123.8 230.0,123.2 230.8,123.0 231.5,123.4 232.2,124.2 233.0,125.1 233.8,125.9 234.5,126.6 235.2,127.1 236.0,127.5 236.8,127.8 237.5,128.1 238.2,128.4 239.0,128.6 239.8,128.8 240.5,128.8 241.2,128.7 242.0,128.5 242.8,128.4 243.5,128.2 244.2,128.2 245.0,128.2 245.8,128.3 246.5,128.3 247.2,128.4 248.0,128.7 248.8,129.1 249.5,129.5 250.2,129.6 251.0,129.4 251.8,129.2 252.5,129.1 253.2,129.2 254.0,129.2 254.8,129.1 255.5,128.8 256.2,128.5 257.0,128.3 257.8,128.4 258.5,128.7 259.2,129.1 260.0,129.5 260.8,129.7 261.5,129.8 262.2,129.8 263.0,129.7 263.8,129.7 264.5,129.7 265.2,129.8 266.0,129.8 266.8,129.8 267.5,129.9 268.2,130.1 269.0,130.4 269.8,130.7 270.5,130.7 271.2,130.4 272.0,130.2 272.8,130.1 273.5,130.2 274.2,130.5 275.0,130.7 275.8,130.9 276.5,130.9 277.2,130.8 278.0,130.8 278.8,130.9 279.5,131.0 280.2,130.9 281.0,130.3 281.8,129.0 282.5,127.6 283.2,127.1 284.0,128.0 284.8,129.4 285.5,130.6 286.2,131.3 287.0,131.6 287.8,131.8 288.5,131.8 289.2,131.7 290.0,131.5 290.8,131.4 291.5,131.4 292.2,131.4 293.0,131.3 293.8,131.2 294.5,131.2 295.2,131.5 296.0,132.0 296.8,132.5 297.5,132.8 298.2,132.8 299.0,132.7 299.8,132.6 300.5,132.3 301.2,131.6 302.0,130.4 302.8,129.0 303.5,128.1 304.2,128.4 305.0,129.5 305.8,130.8 306.5,131.6 307.2,131.9 308.0,131.6 308.8,130.9 309.5,130.2 310.2,130.1 311.0,130.4 311.8,131.0 312.5,131.4 313.2,131.6 314.0,131.6 314.8,131.5 315.5,131.3 316.2,131.2 317.0,131.1 317.8,131.1 318.5,131.1 319.2,131.0 320.0,130.9 320.8,131.0 321.5,131.2 322.2,131.3 323.0,131.0 323.8,130.3 324.5,129.2 325.2,128.3 326.0,128.1 326.8,128.9 327.5,130.1 328.2,131.3 329.0,132.1 329.8,132.4 330.5,132.4 331.2,132.3 332.0,132.2 332.8,132.4 333.5,132.7 334.2,132.9 335.0,133.0 335.8,132.9 336.5,132.8 337.2,132.8 338.0,132.9 338.8,132.9 339.5,132.9 340.2,132.8 341.0,132.8 341.8,132.7 342.5,132.7 343.2,132.8 344.0,132.8 344.8,132.8 345.5,132.7 346.2,132.7 347.0,132.4 347.8,132.0 348.5,131.2 349.2,130.6 350.0,130.4 350.8,130.8 351.5,131.4 352.2,131.9 353.0,132.2 353.8,132.4 354.5,132.7 355.2,132.9 356.0,133.1 356.8,133.3 357.5,133.5 358.2,133.7 359.0,133.6 359.8,133.2 360.5,132.8 361.2,132.4 362.0,132.3 362.8,132.3 363.5,132.5 364.2,132.7 365.0,132.7 365.8,132.7 366.5,132.6 367.2,132.4 368.0,132.3 368.8,132.3 369.5,132.4 370.2,132.5 371.0,132.7 371.8,133.1 372.5,133.5 373.2,133.7 374.0,133.6 374.8,133.3 375.5,132.9 376.2,132.6 377.0,132.4 377.8,132.3 378.5,131.7 379.2,130.1 380.0,127.5 380.8,125.1 381.5,124.9 382.2,127.0 383.0,129.8 383.8,131.5 384.5,132.2 385.2,132.5 386.0,132.7 386.8,132.8 387.5,132.8 388.2,132.9 389.0,132.9 389.8,133.0 390.5,133.1 391.2,133.3 392.0,133.3 392.8,133.1 393.5,132.9 394.2,132.7 395.0,132.8 395.8,133.1 396.5,133.3 397.2,133.5 398.0,133.5 398.8,133.3 399.5,133.1 400.2,132.9 401.0,132.7 401.8,132.6 402.5,132.7 403.2,132.9 404.0,133.0 404.8,133.0 405.5,132.9 406.2,132.9 407.0,132.9 407.8,133.0 408.5,132.9 409.2,132.8 410.0,132.7 410.8,132.8 411.5,132.8 412.2,132.7 413.0,132.2 413.8,131.6 414.5,131.1 415.2,131.0 416.0,131.4 416.8,132.0 417.5,132.5 418.2,132.8 419.0,133.1 419.8,133.2 420.5,133.3 421.2,133.3 422.0,133.2 422.8,133.1 423.5,133.2 424.2,133.4 425.0,133.8 425.8,134.0 426.5,134.0 427.2,133.9 428.0,133.7 428.8,133.6 429.5,133.5 430.2,133.5 431.0,133.6 431.8,133.8 432.5,133.9 433.2,133.9 434.0,133.8 434.8,133.7 435.5,133.6 436.2,133.6 437.0,133.6 437.8,133.7 438.5,133.8 439.2,133.8 440.0,133.6 440.8,133.4 441.5,133.2 442.2,133.1 443.0,133.2 443.8,133.2 444.5,133.2 445.2,133.1 446.0,133.1 446.8,133.3 447.5,133.5 448.2,133.7 449.0,133.8 449.8,133.5 450.5,132.4 451.2,130.6 452.0,129.2 452.8,129.1 453.5,130.4 454.2,131.8 455.0,132.4 455.8,132.3 456.5,132.2 457.2,132.6 458.0,133.1 458.8,133.4 459.5,133.4 460.2,133.3 461.0,133.2 461.8,133.1 462.5,133.0 463.2,132.9 464.0,132.9 464.8,133.0 465.5,133.3 466.2,133.6 467.0,133.9 467.8,133.9 468.5,133.7 469.2,133.5 470.0,133.4 470.8,133.2 471.5,133.2 472.2,133.2 473.0,133.3 473.8,133.4 474.5,133.5 475.2,133.4 476.0,133.2 476.8,133.2 477.5,133.2 478.2,133.4 479.0,133.5 479.8,133.5 480.5,133.5 481.2,133.4 482.0,133.3 482.8,133.2 483.5,133.1 484.2,133.0 485.0,132.9 485.8,132.8 486.5,132.9 487.2,133.1 488.0,133.3 488.8,133.4 489.5,133.4 490.2,133.4 491.0,133.5 491.8,133.7 492.5,133.9 493.2,133.9 494.0,134.0 494.8,134.0 495.5,133.9 496.2,133.8 497.0,133.7 497.8,133.6 498.5,133.5 499.2,133.4 500.0,133.3 500.8,133.2 501.5,133.1 502.2,133.1 503.0,133.2 503.8,133.3 504.5,133.4 505.2,133.5 506.0,133.6 506.8,133.5 507.5,133.2 508.2,132.6 509.0,131.6 509.8,130.4 510.5,129.5 511.2,129.1 512.0,129.4 512.8,130.3 513.5,131.5 514.2,132.6 515.0,133.4 515.8,133.7 516.5,133.7 517.2,133.8 518.0,133.9 518.8,134.0 519.5,134.2 520.2,134.1 521.0,133.8 521.8,133.5 522.5,133.4 523.2,133.4 524.0,133.5 524.8,133.6 525.5,133.6 526.2,133.6 527.0,133.9 527.8,134.2 528.5,134.4 529.2,134.2 530.0,133.9 530.8,133.8 531.5,133.8 532.2,133.9 533.0,134.0 533.8,134.0 534.5,134.1 535.2,134.2 536.0,134.2 536.8,134.0 537.5,133.8 538.2,133.7 539.0,133.7 539.8,133.7 540.5,133.9 541.2,133.9 542.0,133.8 542.8,133.7 543.5,133.6 544.2,133.5 545.0,133.5 545.8,133.6 546.5,133.8 547.2,134.0 548.0,134.1 548.8,134.1 549.5,134.0 550.2,133.8 551.0,133.8 551.8,133.8 552.5,133.9 553.2,134.0 554.0,134.2 554.8,134.4 555.5,134.5 556.2,134.6 557.0,134.7 557.8,134.6 558.5,134.5 559.2,134.2 560.0,133.9 560.8,133.6 561.5,133.4 562.2,133.3 563.0,133.1 563.8,133.0 564.5,133.1 565.2,133.3 566.0,133.8 566.8,134.2 567.5,134.5 568.2,134.5 569.0,134.2 569.8,133.9 570.5,133.8 571.2,133.7 572.0,133.8 572.8,134.0 573.5,134.3 574.2,134.5 575.0,134.8 575.8,134.8 576.5,134.5 577.2,134.2 578.0,133.9 578.8,133.8 579.5,133.8 580.2,133.9 581.0,133.9 581.8,133.9 582.5,134.0 583.2,134.0 584.0,134.1 584.8,134.1 585.5,134.1 586.2,134.2 587.0,134.3 587.8,134.3 588.5,134.3 589.2,134.1 590.0,133.9 590.8,133.6 591.5,133.2 592.2,132.9 593.0,132.7 593.8,132.7 594.5,132.7 595.2,132.7 596.0,132.7 596.8,132.7"/>
</g>
<text transform="translate(151.48 118.20) scale(1.086 1.0)" font-size="10.6" fill="#8E8E00" stroke="#8E8E00" stroke-width="0.12">NASH</text>
<text transform="translate(190.00 124.70) scale(0.951 1.0)" font-size="10.6" fill="#262626" stroke="#262626" stroke-width="0.18">C</text>
<text transform="translate(214.65 86.20) scale(0.937 1.0)" font-size="10.6" fill="#262626" stroke="#262626" stroke-width="0.18">Q</text>
<text transform="translate(223.34 117.00) scale(1.063 1.0)" font-size="10.6" fill="#8E8E00" stroke="#8E8E00" stroke-width="0.12">CASH</text>
<text transform="translate(279.50 124.00) scale(0.951 1.0)" font-size="10.6" fill="#262626" stroke="#262626" stroke-width="0.18">C</text>
<text transform="translate(381.19 122.00) scale(1.078 1.0)" font-size="10.6" fill="#262626" stroke="#262626" stroke-width="0.18">H</text>
<text transform="translate(450.96 124.30) scale(1.025 1.0)" font-size="10.6" fill="#262626" stroke="#262626" stroke-width="0.18">C</text>
<text transform="translate(499.39 125.50) scale(1.070 1.0)" font-size="10.6" fill="#262626" stroke="#262626" stroke-width="0.18">M</text>
<text transform="translate(153.29 157.60) scale(1.071 1.0)" font-size="10.6" fill="#8E2C2C" stroke="#8E2C2C" stroke-width="0.12">NASH</text>
<text transform="translate(190.71 157.10) scale(0.921 1.0)" font-size="10.6" fill="#262626" stroke="#262626" stroke-width="0.18">C</text>
<text transform="translate(213.40 138.70) scale(1.047 1.0)" font-size="10.6" fill="#262626" stroke="#262626" stroke-width="0.18">Q</text>
<text transform="translate(225.04 150.40) scale(1.063 1.0)" font-size="10.6" fill="#8E2C2C" stroke="#8E2C2C" stroke-width="0.12">CASH</text>
<text transform="translate(281.81 154.80) scale(0.921 1.0)" font-size="10.6" fill="#262626" stroke="#262626" stroke-width="0.18">C</text>
<text transform="translate(380.66 155.20) scale(1.112 1.0)" font-size="10.6" fill="#262626" stroke="#262626" stroke-width="0.18">H</text>
<text transform="translate(453.76 157.80) scale(1.025 1.0)" font-size="10.6" fill="#262626" stroke="#262626" stroke-width="0.18">C</text>
<text transform="translate(507.59 157.30) scale(1.070 1.0)" font-size="10.6" fill="#262626" stroke="#262626" stroke-width="0.18">M</text>
<text transform="translate(212.73 168.30) scale(0.978 1.0)" font-size="10.6" fill="#262626" stroke="#262626" stroke-width="0.18">Q</text>
<text transform="translate(228.05 184.70) scale(1.038 1.0)" font-size="10.6" fill="#00CBCC" stroke="#00CBCC" stroke-width="0.12">CASH</text>
<text transform="translate(306.35 173.40) scale(1.040 1.0)" font-size="10.6" fill="#262626" stroke="#262626" stroke-width="0.18">C</text>
<text transform="translate(453.13 176.10) scale(1.085 1.0)" font-size="10.6" fill="#262626" stroke="#262626" stroke-width="0.18">C</text>
<text transform="translate(160.39 221.20) scale(1.075 1.0)" font-size="10.6" fill="#262626" stroke="#262626" stroke-width="0.12">NASH</text>
<text transform="translate(216.95 193.10) scale(0.950 1.0)" font-size="10.6" fill="#262626" stroke="#262626" stroke-width="0.18">Q</text>
<text transform="translate(223.34 220.00) scale(1.063 1.0)" font-size="10.6" fill="#8E8E00" stroke="#8E8E00" stroke-width="0.12">CASH</text>
<text transform="translate(278.76 224.20) scale(1.025 1.0)" font-size="10.6" fill="#262626" stroke="#262626" stroke-width="0.18">C</text>
<text transform="translate(379.87 221.60) scale(1.095 1.0)" font-size="10.6" fill="#262626" stroke="#262626" stroke-width="0.18">H</text>
<text transform="translate(454.33 221.80) scale(1.085 1.0)" font-size="10.6" fill="#262626" stroke="#262626" stroke-width="0.18">C</text>
<text transform="translate(509.91 227.10) scale(1.169 1.0)" font-size="10.6" fill="#262626" stroke="#262626" stroke-width="0.18">M</text>
<text transform="translate(160.00 254.50) scale(1.064 1.0)" font-size="10.6" fill="#A040F0" stroke="#A040F0" stroke-width="0.12">NASH</text>
<text transform="translate(214.12 244.20) scale(1.005 1.0)" font-size="10.6" fill="#262626" stroke="#262626" stroke-width="0.18">Q</text>
<text transform="translate(225.04 251.70) scale(1.063 1.0)" font-size="10.6" fill="#A040F0" stroke="#A040F0" stroke-width="0.12">CASH</text>
<text transform="translate(379.39 254.50) scale(1.078 1.0)" font-size="10.6" fill="#262626" stroke="#262626" stroke-width="0.18">H</text>
<text transform="translate(449.85 259.20) scale(1.040 1.0)" font-size="10.6" fill="#262626" stroke="#262626" stroke-width="0.18">C</text>
<text transform="translate(504.61 261.50) scale(1.169 1.0)" font-size="10.6" fill="#262626" stroke="#262626" stroke-width="0.18">M</text>
<text transform="translate(191.68 275.50) scale(0.981 1.0)" font-size="10.6" fill="#262626" stroke="#262626" stroke-width="0.18">C</text>
<text transform="translate(208.73 272.00) scale(0.978 1.0)" font-size="10.6" fill="#262626" stroke="#262626" stroke-width="0.18">Q</text>
<text transform="translate(233.25 271.80) scale(1.034 1.0)" font-size="10.6" fill="#4E9A2E" stroke="#4E9A2E" stroke-width="0.12">CASH</text>
<text transform="translate(212.73 290.70) scale(0.978 1.0)" font-size="10.6" fill="#262626" stroke="#262626" stroke-width="0.18">Q</text>
<text transform="translate(161.09 308.90) scale(1.068 1.0)" font-size="10.6" fill="#3030F0" stroke="#3030F0" stroke-width="0.12">NASH</text>
<text transform="translate(224.54 303.00) scale(1.056 1.0)" font-size="10.6" fill="#3030F0" stroke="#3030F0" stroke-width="0.12">CASH</text>
<text transform="translate(281.60 304.20) scale(0.951 1.0)" font-size="10.6" fill="#262626" stroke="#262626" stroke-width="0.18">C</text>
<text transform="translate(377.24 306.90) scale(1.129 1.0)" font-size="10.6" fill="#262626" stroke="#262626" stroke-width="0.18">H</text>
<text transform="translate(445.13 305.80) scale(1.085 1.0)" font-size="10.6" fill="#262626" stroke="#262626" stroke-width="0.18">C</text>
<text transform="translate(508.34 307.70) scale(1.126 1.0)" font-size="10.6" fill="#262626" stroke="#262626" stroke-width="0.18">M</text>
<text transform="translate(217.43 326.40) scale(0.978 1.0)" font-size="10.6" fill="#262626" stroke="#262626" stroke-width="0.18">Q</text>
<text transform="translate(230.44 326.20) scale(1.052 1.0)" font-size="10.6" fill="#D03030" stroke="#D03030" stroke-width="0.12">CASH</text>
<text transform="translate(379.57 331.60) scale(1.095 1.0)" font-size="10.6" fill="#262626" stroke="#262626" stroke-width="0.18">H</text>
<text transform="translate(509.14 331.00) scale(1.126 1.0)" font-size="10.6" fill="#262626" stroke="#262626" stroke-width="0.18">M</text>
<text transform="translate(224.14 358.00) scale(1.063 1.0)" font-size="10.6" fill="#3a3a3a" stroke="#3a3a3a" stroke-width="0.12">CASH</text>
<text transform="translate(519.50 19.80) scale(1.17 1)" font-size="12.8" fill="#1c1c1c" stroke="#1c1c1c" stroke-width="0.25">Q-Quatz</text>
<text transform="translate(519.50 36.10) scale(1.17 1)" font-size="12.8" fill="#1c1c1c" stroke="#1c1c1c" stroke-width="0.25">M-Mullite</text>
<text transform="translate(519.50 52.40) scale(1.17 1)" font-size="12.8" fill="#1c1c1c" stroke="#1c1c1c" stroke-width="0.25">H-Hematite</text>
<text transform="translate(519.50 68.70) scale(1.17 1)" font-size="12.8" fill="#1c1c1c" stroke="#1c1c1c" stroke-width="0.25">C-Calcite</text>
<text transform="translate(81.10 406.5) scale(1.105 1)" font-size="15.5" fill="#1c1c1c" stroke="#1c1c1c" stroke-width="0.2">10</text>
<text transform="translate(153.52 406.5) scale(1.105 1)" font-size="15.5" fill="#1c1c1c" stroke="#1c1c1c" stroke-width="0.2">20</text>
<text transform="translate(225.80 406.5) scale(1.105 1)" font-size="15.5" fill="#1c1c1c" stroke="#1c1c1c" stroke-width="0.2">30</text>
<text transform="translate(298.17 406.5) scale(1.105 1)" font-size="15.5" fill="#1c1c1c" stroke="#1c1c1c" stroke-width="0.2">40</text>
<text transform="translate(370.20 406.5) scale(1.105 1)" font-size="15.5" fill="#1c1c1c" stroke="#1c1c1c" stroke-width="0.2">50</text>
<text transform="translate(442.32 406.5) scale(1.105 1)" font-size="15.5" fill="#1c1c1c" stroke="#1c1c1c" stroke-width="0.2">60</text>
<text transform="translate(514.52 406.5) scale(1.105 1)" font-size="15.5" fill="#1c1c1c" stroke="#1c1c1c" stroke-width="0.2">70</text>
<text transform="translate(586.76 406.5) scale(1.105 1)" font-size="15.5" fill="#1c1c1c" stroke="#1c1c1c" stroke-width="0.2">80</text>
<text transform="translate(277.9 435.6) scale(1.185 1)" font-size="17.4" word-spacing="1" fill="#111" stroke="#111" stroke-width="0.35">2θ degree</text>
<text transform="translate(16.2 257.37) rotate(-90) scale(1.116 1)" font-size="17.6" fill="#111" stroke="#111" stroke-width="0.35">Intensity (a.u)</text>
<rect x="630.6" y="0.2" width="53.2" height="150.8" fill="#fff" stroke="#666" stroke-width="1.25"/>
<path d="M632,24.15H663" stroke="#8E8E00" stroke-width="1.9" fill="none"/>
<text transform="translate(666.44 27.65) scale(1.025 1.0)" font-size="12.5" fill="#111" stroke="#111" stroke-width="0.25">T9</text>
<path d="M632,39.08H663" stroke="#7D4E4E" stroke-width="1.9" fill="none"/>
<text transform="translate(666.44 42.58) scale(1.021 1.0)" font-size="12.5" fill="#111" stroke="#111" stroke-width="0.25">T8</text>
<path d="M632,54.01H663" stroke="#00CBCC" stroke-width="1.9" fill="none"/>
<text transform="translate(666.44 57.51) scale(1.030 1.0)" font-size="12.5" fill="#111" stroke="#111" stroke-width="0.25">T7</text>
<path d="M632,68.94H663" stroke="#CC9900" stroke-width="1.9" fill="none"/>
<text transform="translate(666.44 72.44) scale(1.021 1.0)" font-size="12.5" fill="#111" stroke="#111" stroke-width="0.25">T6</text>
<path d="M632,83.87H663" stroke="#B177DE" stroke-width="1.9" fill="none"/>
<text transform="translate(666.44 87.37) scale(1.021 1.0)" font-size="12.5" fill="#111" stroke="#111" stroke-width="0.25">T5</text>
<path d="M632,98.80H663" stroke="#37AD6B" stroke-width="1.9" fill="none"/>
<text transform="translate(666.45 102.30) scale(1.012 1.0)" font-size="12.5" fill="#111" stroke="#111" stroke-width="0.25">T4</text>
<path d="M632,113.73H663" stroke="#1A6FDF" stroke-width="1.9" fill="none"/>
<text transform="translate(666.44 117.23) scale(1.021 1.0)" font-size="12.5" fill="#111" stroke="#111" stroke-width="0.25">T3</text>
<path d="M632,128.66H663" stroke="#F14040" stroke-width="1.9" fill="none"/>
<text transform="translate(666.44 132.16) scale(1.030 1.0)" font-size="12.5" fill="#111" stroke="#111" stroke-width="0.25">T2</text>
<path d="M632,143.59H663" stroke="#515151" stroke-width="1.9" fill="none"/>
<text transform="translate(666.44 147.09) scale(1.025 1.0)" font-size="12.5" fill="#111" stroke="#111" stroke-width="0.25">T1</text>
</svg>
</body></html>
